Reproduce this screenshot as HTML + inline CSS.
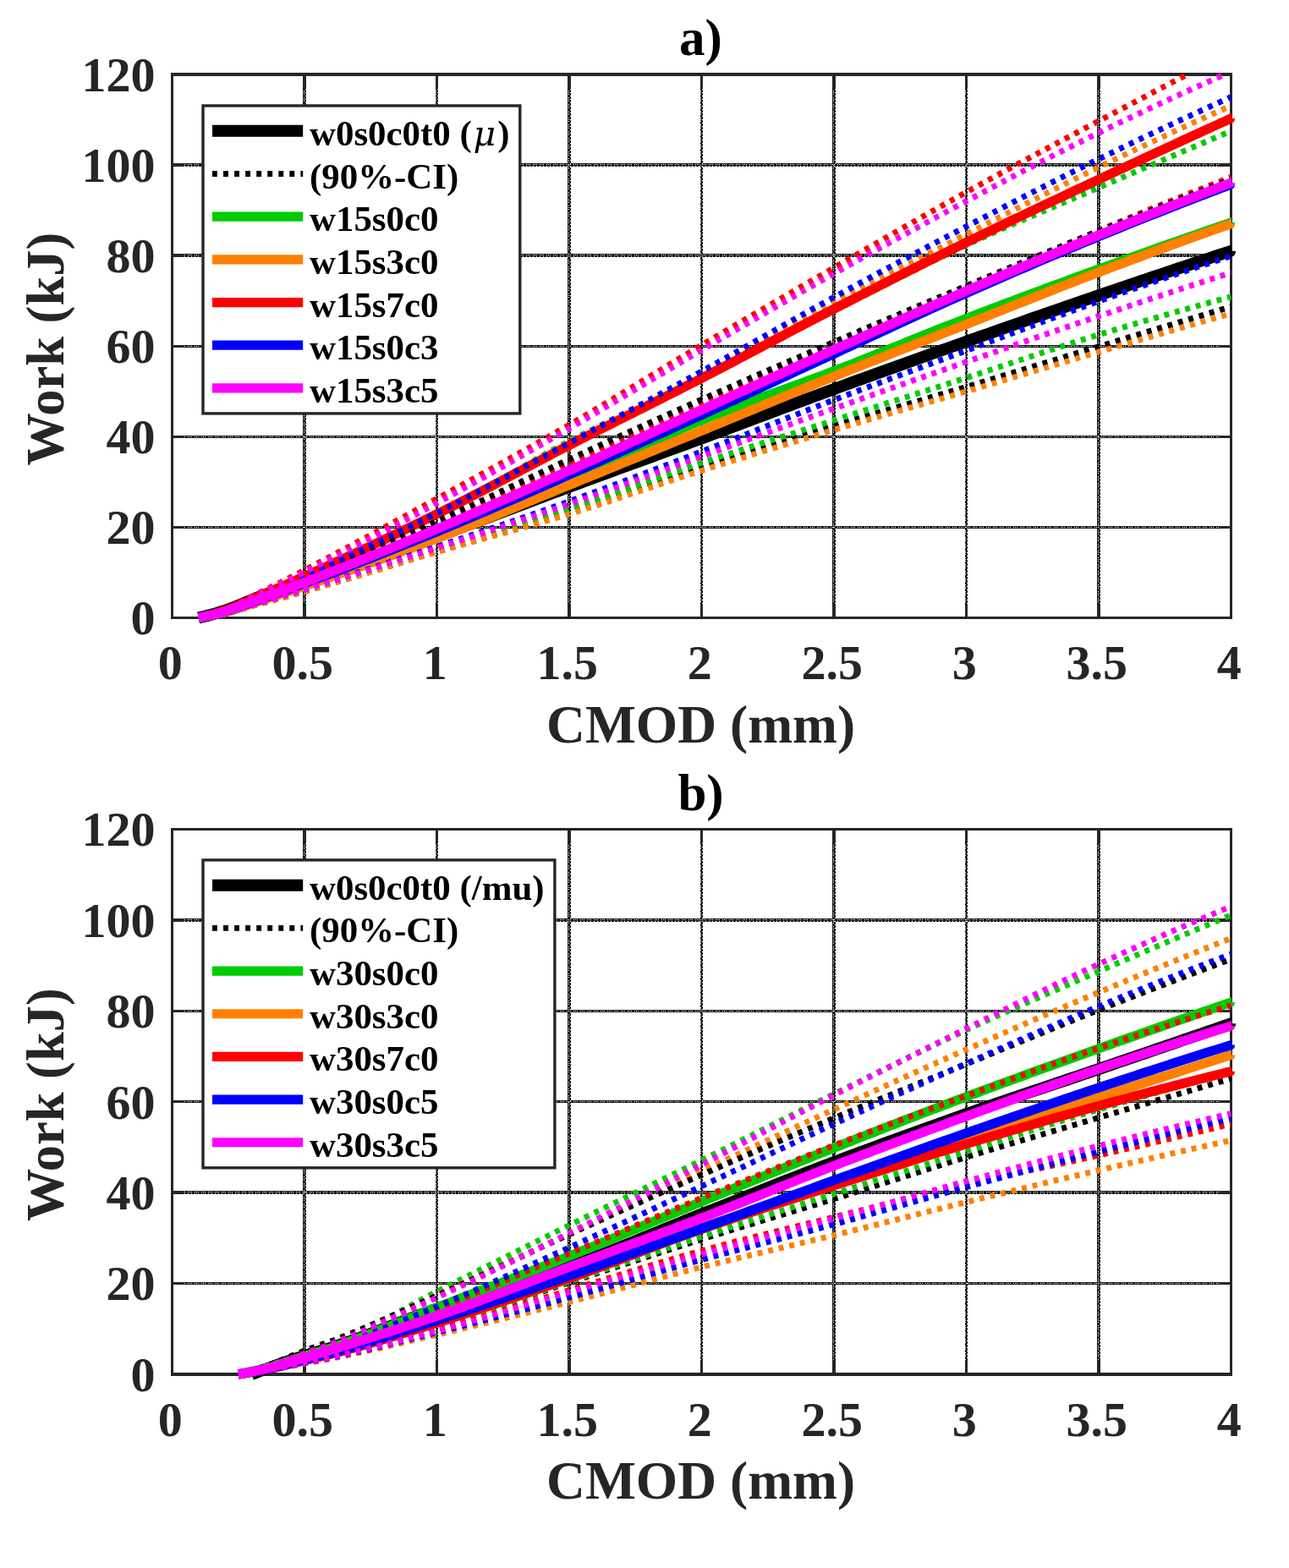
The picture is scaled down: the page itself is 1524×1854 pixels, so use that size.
<!DOCTYPE html>
<html><head><meta charset="utf-8"><title>Work vs CMOD</title>
<style>
html,body{margin:0;padding:0;background:#fff;}
svg{display:block;}
text{font-family:"Liberation Serif","Times New Roman",serif;font-weight:bold;}
.t{font-size:58px;fill:#262626;}
.l{font-size:63px;fill:#262626;}
.ti{font-size:61px;fill:#000;}
.lg{font-size:42.9px;fill:#000;}
</style></head><body>

<svg width="1524" height="1854" viewBox="0 0 1524 1854">
<rect width="1524" height="1854" fill="#fff"/>
<defs>
<clipPath id="clipa"><rect x="203.5" y="78" width="1252.4" height="653.9"/><rect x="234.2" y="78" width="1221.7" height="672.4"/></clipPath>
<clipPath id="clipb"><rect x="203.5" y="970.5" width="1252.4" height="655.9"/><rect x="281.15" y="970.5" width="1174.75" height="674.4"/></clipPath>
</defs>
<g shape-rendering="crispEdges">
<g fill="#161616"><rect x="358" y="90" width="4" height="639"/><rect x="515" y="90" width="3" height="639"/><rect x="671" y="90" width="4" height="639"/><rect x="828" y="90" width="3" height="639"/><rect x="984" y="90" width="4" height="639"/><rect x="1141" y="90" width="3" height="639"/><rect x="1297" y="90" width="4" height="639"/><rect x="205" y="622" width="1249" height="3"/><rect x="205" y="515" width="1249" height="3"/><rect x="205" y="408" width="1249" height="3"/><rect x="205" y="300" width="1249" height="4"/><rect x="205" y="193" width="1249" height="4"/></g>
<path d="M359.5 91V729M515.5 91V729M672.5 91V729M828.5 91V729M985.5 91V729M1141.5 91V729M1298.5 91V729M206 623.5H1454M206 516.5H1454M206 409.5H1454M206 301.5H1454M206 194.5H1454" stroke="#fff" stroke-width="1" stroke-dasharray="1 1 1 1 1 3" fill="none"/>
<path d="M361.5 93V729M517.5 93V729M674.5 93V729M830.5 93V729M987.5 93V729M1143.5 93V729M1300.5 93V729M206 303.5H1454M206 196.5H1454" stroke="#fff" stroke-width="1" stroke-dasharray="1 3" fill="none"/>
<g fill="#262626"><rect x="358" y="90" width="4" height="14"/><rect x="358" y="715" width="4" height="14"/><rect x="515" y="90" width="3" height="14"/><rect x="515" y="715" width="3" height="14"/><rect x="671" y="90" width="4" height="14"/><rect x="671" y="715" width="4" height="14"/><rect x="828" y="90" width="3" height="14"/><rect x="828" y="715" width="3" height="14"/><rect x="984" y="90" width="4" height="14"/><rect x="984" y="715" width="4" height="14"/><rect x="1141" y="90" width="3" height="14"/><rect x="1141" y="715" width="3" height="14"/><rect x="1297" y="90" width="4" height="14"/><rect x="1297" y="715" width="4" height="14"/><rect x="205" y="622" width="13" height="3"/><rect x="1441" y="622" width="13" height="3"/><rect x="205" y="515" width="13" height="3"/><rect x="1441" y="515" width="13" height="3"/><rect x="205" y="408" width="13" height="3"/><rect x="1441" y="408" width="13" height="3"/><rect x="205" y="300" width="13" height="4"/><rect x="1441" y="300" width="13" height="4"/><rect x="205" y="193" width="13" height="4"/><rect x="1441" y="193" width="13" height="4"/></g>
</g>
<g fill="#262626" shape-rendering="crispEdges"><rect x="202" y="86" width="1255" height="4"/><rect x="202" y="729" width="1255" height="3"/><rect x="202" y="86" width="3" height="646"/><rect x="1454" y="86" width="3" height="646"/></g>
<g fill="none">
<path clip-path="url(#clipa)" d="M234.8 730.4L241.06 728.96L247.32 727.38L253.58 725.65L259.84 723.8L266.1 721.83L272.36 719.65L278.62 717.22L284.88 714.62L291.14 711.97L297.4 709.34L303.66 706.85L309.92 704.46L316.18 702.11L322.44 699.78L328.7 697.48L334.96 695.21L341.22 692.97L347.48 690.75L353.74 688.55L360 686.38L366.26 684.23L372.52 682.09L378.78 679.97L385.04 677.87L391.3 675.78L397.56 673.71L403.82 671.64L410.08 669.58L416.34 667.53L422.6 665.48L428.86 663.44L435.12 661.39L441.38 659.35L447.64 657.3L453.9 655.24L460.16 653.18L466.42 651.11L472.68 649.03L478.94 646.94L485.2 644.84L491.46 642.72L497.72 640.58L503.98 638.42L510.24 636.24L516.5 634.04L522.76 631.82L529.02 629.57L535.28 627.31L541.54 625.03L547.8 622.74L554.06 620.43L560.32 618.11L566.58 615.77L572.84 613.43L579.1 611.08L585.36 608.72L591.62 606.36L597.88 603.99L604.14 601.61L610.4 599.24L616.66 596.86L622.92 594.49L629.18 592.12L635.44 589.75L641.7 587.39L647.96 585.03L654.22 582.68L660.48 580.34L666.74 578.01L673 575.69L679.26 573.38L685.52 571.07L691.78 568.77L698.04 566.48L704.3 564.18L710.56 561.89L716.82 559.6L723.08 557.32L729.34 555.03L735.6 552.75L741.86 550.47L748.12 548.19L754.38 545.91L760.64 543.63L766.9 541.35L773.16 539.06L779.42 536.78L785.68 534.49L791.94 532.21L798.2 529.92L804.46 527.62L810.72 525.32L816.98 523.02L823.24 520.72L829.5 518.41L835.76 516.09L842.02 513.77L848.28 511.44L854.54 509.11L860.8 506.77L867.06 504.43L873.32 502.09L879.58 499.74L885.84 497.39L892.1 495.04L898.36 492.69L904.62 490.34L910.88 487.99L917.14 485.64L923.4 483.29L929.66 480.95L935.92 478.61L942.18 476.27L948.44 473.93L954.7 471.6L960.96 469.28L967.22 466.96L973.48 464.65L979.74 462.35L986 460.06L992.26 457.77L998.52 455.48L1004.78 453.2L1011.04 450.93L1017.3 448.65L1023.56 446.38L1029.82 444.12L1036.08 441.86L1042.34 439.6L1048.6 437.34L1054.86 435.09L1061.12 432.84L1067.38 430.6L1073.64 428.35L1079.9 426.11L1086.16 423.87L1092.42 421.64L1098.68 419.41L1104.94 417.18L1111.2 414.95L1117.46 412.73L1123.72 410.5L1129.98 408.28L1136.24 406.06L1142.5 403.85L1148.76 401.63L1155.02 399.42L1161.28 397.21L1167.54 395L1173.8 392.79L1180.06 390.58L1186.32 388.38L1192.58 386.18L1198.84 383.98L1205.1 381.79L1211.36 379.59L1217.62 377.4L1223.88 375.22L1230.14 373.03L1236.4 370.85L1242.66 368.67L1248.92 366.5L1255.18 364.33L1261.44 362.16L1267.7 360L1273.96 357.84L1280.22 355.68L1286.48 353.53L1292.74 351.39L1299 349.24L1305.26 347.1L1311.52 344.97L1317.78 342.84L1324.04 340.71L1330.3 338.58L1336.56 336.46L1342.82 334.34L1349.08 332.22L1355.34 330.11L1361.6 328L1367.86 325.9L1374.12 323.8L1380.38 321.7L1386.64 319.6L1392.9 317.51L1399.16 315.42L1405.42 313.34L1411.68 311.25L1417.94 309.18L1424.2 307.1L1430.46 305.03L1436.72 302.96L1442.98 300.9L1449.24 298.84L1455.5 296.78L1463.5 294.15" stroke="#000000" stroke-width="14" stroke-linejoin="round"/>
<path d="M1455.9 296.78H1461.1A5.6 7 0 0 1 1455.9 303.77Z" fill="#000000"/>
<path clip-path="url(#clipa)" d="M234.8 730.4L241.06 729.49L247.32 728.47L253.58 727.35L259.84 726.14L266.1 724.85L272.36 723.42L278.62 721.83L284.88 720.12L291.14 718.36L297.4 716.58L303.66 714.85L309.92 713.15L316.18 711.46L322.44 709.75L328.7 708.04L334.96 706.31L341.22 704.55L347.48 702.78L353.74 700.99L360 699.2L366.26 697.39L372.52 695.57L378.78 693.75L385.04 691.92L391.3 690.07L397.56 688.23L403.82 686.37L410.08 684.51L416.34 682.64L422.6 680.76L428.86 678.88L435.12 677L441.38 675.11L447.64 673.22L453.9 671.32L460.16 669.42L466.42 667.51L472.68 665.61L478.94 663.7L485.2 661.79L491.46 659.88L497.72 657.97L503.98 656.06L510.24 654.15L516.5 652.24L522.76 650.33L529.02 648.42L535.28 646.5L541.54 644.59L547.8 642.67L554.06 640.74L560.32 638.82L566.58 636.89L572.84 634.96L579.1 633.02L585.36 631.08L591.62 629.14L597.88 627.2L604.14 625.25L610.4 623.29L616.66 621.34L622.92 619.38L629.18 617.41L635.44 615.44L641.7 613.47L647.96 611.49L654.22 609.51L660.48 607.52L666.74 605.52L673 603.53L679.26 601.52L685.52 599.5L691.78 597.47L698.04 595.43L704.3 593.38L710.56 591.32L716.82 589.26L723.08 587.19L729.34 585.11L735.6 583.04L741.86 580.95L748.12 578.87L754.38 576.79L760.64 574.71L766.9 572.62L773.16 570.55L779.42 568.47L785.68 566.4L791.94 564.34L798.2 562.28L804.46 560.23L810.72 558.19L816.98 556.16L823.24 554.14L829.5 552.13L835.76 550.14L842.02 548.14L848.28 546.15L854.54 544.16L860.8 542.18L867.06 540.2L873.32 538.23L879.58 536.26L885.84 534.29L892.1 532.33L898.36 530.37L904.62 528.42L910.88 526.47L917.14 524.52L923.4 522.58L929.66 520.65L935.92 518.71L942.18 516.79L948.44 514.86L954.7 512.94L960.96 511.03L967.22 509.12L973.48 507.22L979.74 505.31L986 503.42L992.26 501.53L998.52 499.65L1004.78 497.78L1011.04 495.92L1017.3 494.07L1023.56 492.22L1029.82 490.38L1036.08 488.55L1042.34 486.72L1048.6 484.89L1054.86 483.07L1061.12 481.25L1067.38 479.43L1073.64 477.6L1079.9 475.78L1086.16 473.96L1092.42 472.14L1098.68 470.31L1104.94 468.48L1111.2 466.65L1117.46 464.81L1123.72 462.96L1129.98 461.11L1136.24 459.25L1142.5 457.38L1148.76 455.5L1155.02 453.62L1161.28 451.74L1167.54 449.84L1173.8 447.95L1180.06 446.05L1186.32 444.14L1192.58 442.24L1198.84 440.33L1205.1 438.41L1211.36 436.5L1217.62 434.58L1223.88 432.67L1230.14 430.75L1236.4 428.83L1242.66 426.92L1248.92 425L1255.18 423.08L1261.44 421.17L1267.7 419.26L1273.96 417.35L1280.22 415.44L1286.48 413.53L1292.74 411.63L1299 409.74L1305.26 407.84L1311.52 405.95L1317.78 404.05L1324.04 402.16L1330.3 400.27L1336.56 398.38L1342.82 396.49L1349.08 394.6L1355.34 392.71L1361.6 390.83L1367.86 388.94L1374.12 387.06L1380.38 385.17L1386.64 383.29L1392.9 381.41L1399.16 379.52L1405.42 377.64L1411.68 375.76L1417.94 373.88L1424.2 372.01L1430.46 370.13L1436.72 368.25L1442.98 366.38L1449.24 364.5L1455.5 362.63" stroke="#000000" stroke-width="6.9" stroke-dasharray="5.9 6.97"/>
<path clip-path="url(#clipa)" d="M234.8 730.4L241.06 729.27L247.32 728.02L253.58 726.64L259.84 725.15L266.1 723.56L272.36 721.8L278.62 719.84L284.88 717.73L291.14 715.55L297.4 713.36L303.66 711.22L309.92 709.14L316.18 707.05L322.44 704.95L328.7 702.83L334.96 700.7L341.22 698.54L347.48 696.35L353.74 694.15L360 691.95L366.26 689.75L372.52 687.54L378.78 685.32L385.04 683.09L391.3 680.86L397.56 678.62L403.82 676.37L410.08 674.11L416.34 671.84L422.6 669.57L428.86 667.28L435.12 664.99L441.38 662.68L447.64 660.36L453.9 658.03L460.16 655.69L466.42 653.34L472.68 650.98L478.94 648.6L485.2 646.21L491.46 643.8L497.72 641.38L503.98 638.95L510.24 636.5L516.5 634.04L522.76 631.56L529.02 629.05L535.28 626.53L541.54 623.98L547.8 621.42L554.06 618.84L560.32 616.24L566.58 613.62L572.84 610.99L579.1 608.35L585.36 605.69L591.62 603.02L597.88 600.34L604.14 597.65L610.4 594.95L616.66 592.24L622.92 589.53L629.18 586.81L635.44 584.08L641.7 581.35L647.96 578.61L654.22 575.88L660.48 573.14L666.74 570.4L673 567.66L679.26 564.9L685.52 562.12L691.78 559.3L698.04 556.46L704.3 553.59L710.56 550.71L716.82 547.81L723.08 544.9L729.34 541.99L735.6 539.06L741.86 536.14L748.12 533.22L754.38 530.3L760.64 527.4L766.9 524.5L773.16 521.62L779.42 518.76L785.68 515.93L791.94 513.12L798.2 510.33L804.46 507.59L810.72 504.88L816.98 502.2L823.24 499.58L829.5 496.99L835.76 494.46L842.02 491.96L848.28 489.5L854.54 487.07L860.8 484.67L867.06 482.3L873.32 479.95L879.58 477.62L885.84 475.32L892.1 473.03L898.36 470.75L904.62 468.48L910.88 466.22L917.14 463.96L923.4 461.71L929.66 459.46L935.92 457.2L942.18 454.93L948.44 452.66L954.7 450.37L960.96 448.06L967.22 445.74L973.48 443.4L979.74 441.04L986 438.64L992.26 436.23L998.52 433.79L1004.78 431.35L1011.04 428.88L1017.3 426.41L1023.56 423.92L1029.82 421.43L1036.08 418.92L1042.34 416.41L1048.6 413.9L1054.86 411.38L1061.12 408.86L1067.38 406.33L1073.64 403.81L1079.9 401.29L1086.16 398.78L1092.42 396.26L1098.68 393.76L1104.94 391.27L1111.2 388.78L1117.46 386.3L1123.72 383.84L1129.98 381.39L1136.24 378.96L1142.5 376.54L1148.76 374.14L1155.02 371.74L1161.28 369.35L1167.54 366.97L1173.8 364.59L1180.06 362.22L1186.32 359.85L1192.58 357.49L1198.84 355.13L1205.1 352.78L1211.36 350.44L1217.62 348.1L1223.88 345.77L1230.14 343.44L1236.4 341.12L1242.66 338.81L1248.92 336.49L1255.18 334.19L1261.44 331.89L1267.7 329.59L1273.96 327.3L1280.22 325.02L1286.48 322.74L1292.74 320.46L1299 318.19L1305.26 315.93L1311.52 313.67L1317.78 311.41L1324.04 309.16L1330.3 306.91L1336.56 304.67L1342.82 302.44L1349.08 300.21L1355.34 297.98L1361.6 295.76L1367.86 293.54L1374.12 291.33L1380.38 289.13L1386.64 286.92L1392.9 284.73L1399.16 282.54L1405.42 280.35L1411.68 278.17L1417.94 276L1424.2 273.83L1430.46 271.66L1436.72 269.5L1442.98 267.35L1449.24 265.2L1455.5 263.05L1463.5 260.31" stroke="#00cc00" stroke-width="11.2" stroke-linejoin="round"/>
<path d="M1455.9 263.05H1459.98A4.48 5.6 0 0 1 1455.9 268.64Z" fill="#00cc00"/>
<path clip-path="url(#clipa)" d="M234.8 730.4L241.06 728.97L247.32 727.38L253.58 725.63L259.84 723.75L266.1 721.73L272.36 719.51L278.62 717.02L284.88 714.35L291.14 711.59L297.4 708.82L303.66 706.11L309.92 703.47L316.18 700.82L322.44 698.16L328.7 695.48L334.96 692.77L341.22 690.04L347.48 687.27L353.74 684.49L360 681.71L366.26 678.92L372.52 676.13L378.78 673.33L385.04 670.53L391.3 667.71L397.56 664.89L403.82 662.06L410.08 659.21L416.34 656.36L422.6 653.49L428.86 650.6L435.12 647.71L441.38 644.79L447.64 641.87L453.9 638.92L460.16 635.96L466.42 632.98L472.68 629.97L478.94 626.95L485.2 623.91L491.46 620.84L497.72 617.76L503.98 614.64L510.24 611.51L516.5 608.34L522.76 605.14L529.02 601.87L535.28 598.55L541.54 595.17L547.8 591.76L554.06 588.3L560.32 584.8L566.58 581.28L572.84 577.73L579.1 574.16L585.36 570.58L591.62 566.99L597.88 563.39L604.14 559.79L610.4 556.19L616.66 552.61L622.92 549.04L629.18 545.49L635.44 541.96L641.7 538.47L647.96 535.01L654.22 531.59L660.48 528.21L666.74 524.89L673 521.62L679.26 518.4L685.52 515.21L691.78 512.05L698.04 508.92L704.3 505.81L710.56 502.73L716.82 499.67L723.08 496.63L729.34 493.6L735.6 490.59L741.86 487.6L748.12 484.61L754.38 481.63L760.64 478.65L766.9 475.68L773.16 472.71L779.42 469.74L785.68 466.76L791.94 463.77L798.2 460.78L804.46 457.78L810.72 454.76L816.98 451.73L823.24 448.67L829.5 445.6L835.76 442.52L842.02 439.42L848.28 436.32L854.54 433.21L860.8 430.1L867.06 426.98L873.32 423.86L879.58 420.73L885.84 417.6L892.1 414.47L898.36 411.33L904.62 408.2L910.88 405.06L917.14 401.91L923.4 398.77L929.66 395.63L935.92 392.49L942.18 389.35L948.44 386.21L954.7 383.08L960.96 379.94L967.22 376.81L973.48 373.68L979.74 370.56L986 367.44L992.26 364.32L998.52 361.19L1004.78 358.04L1011.04 354.88L1017.3 351.72L1023.56 348.55L1029.82 345.38L1036.08 342.21L1042.34 339.03L1048.6 335.86L1054.86 332.7L1061.12 329.53L1067.38 326.38L1073.64 323.24L1079.9 320.1L1086.16 316.99L1092.42 313.88L1098.68 310.79L1104.94 307.73L1111.2 304.68L1117.46 301.65L1123.72 298.65L1129.98 295.68L1136.24 292.74L1142.5 289.82L1148.76 286.93L1155.02 284.07L1161.28 281.24L1167.54 278.42L1173.8 275.63L1180.06 272.86L1186.32 270.1L1192.58 267.36L1198.84 264.64L1205.1 261.93L1211.36 259.23L1217.62 256.54L1223.88 253.86L1230.14 251.19L1236.4 248.52L1242.66 245.86L1248.92 243.2L1255.18 240.54L1261.44 237.88L1267.7 235.22L1273.96 232.55L1280.22 229.88L1286.48 227.21L1292.74 224.53L1299 221.83L1305.26 219.14L1311.52 216.44L1317.78 213.75L1324.04 211.06L1330.3 208.36L1336.56 205.68L1342.82 202.99L1349.08 200.3L1355.34 197.62L1361.6 194.94L1367.86 192.26L1374.12 189.58L1380.38 186.9L1386.64 184.23L1392.9 181.56L1399.16 178.88L1405.42 176.21L1411.68 173.55L1417.94 170.88L1424.2 168.21L1430.46 165.55L1436.72 162.89L1442.98 160.23L1449.24 157.57L1455.5 154.92" stroke="#00cc00" stroke-width="6.9" stroke-dasharray="5.9 6.97"/>
<path clip-path="url(#clipa)" d="M234.8 730.4L241.06 729.47L247.32 728.44L253.58 727.3L259.84 726.08L266.1 724.77L272.36 723.33L278.62 721.71L284.88 719.98L291.14 718.19L297.4 716.39L303.66 714.63L309.92 712.92L316.18 711.2L322.44 709.47L328.7 707.73L334.96 705.98L341.22 704.2L347.48 702.4L353.74 700.59L360 698.77L366.26 696.93L372.52 695.09L378.78 693.24L385.04 691.37L391.3 689.5L397.56 687.62L403.82 685.74L410.08 683.85L416.34 681.95L422.6 680.04L428.86 678.13L435.12 676.22L441.38 674.3L447.64 672.38L453.9 670.46L460.16 668.53L466.42 666.6L472.68 664.67L478.94 662.74L485.2 660.81L491.46 658.88L497.72 656.95L503.98 655.02L510.24 653.09L516.5 651.17L522.76 649.25L529.02 647.34L535.28 645.42L541.54 643.52L547.8 641.61L554.06 639.7L560.32 637.8L566.58 635.89L572.84 633.98L579.1 632.07L585.36 630.15L591.62 628.23L597.88 626.31L604.14 624.38L610.4 622.44L616.66 620.49L622.92 618.54L629.18 616.57L635.44 614.59L641.7 612.61L647.96 610.6L654.22 608.59L660.48 606.56L666.74 604.52L673 602.46L679.26 600.37L685.52 598.26L691.78 596.12L698.04 593.96L704.3 591.78L710.56 589.58L716.82 587.37L723.08 585.14L729.34 582.9L735.6 580.65L741.86 578.39L748.12 576.13L754.38 573.86L760.64 571.6L766.9 569.34L773.16 567.08L779.42 564.83L785.68 562.58L791.94 560.35L798.2 558.13L804.46 555.93L810.72 553.74L816.98 551.58L823.24 549.43L829.5 547.32L835.76 545.22L842.02 543.13L848.28 541.06L854.54 539.01L860.8 536.96L867.06 534.92L873.32 532.89L879.58 530.87L885.84 528.86L892.1 526.86L898.36 524.86L904.62 522.86L910.88 520.87L917.14 518.89L923.4 516.9L929.66 514.92L935.92 512.94L942.18 510.95L948.44 508.97L954.7 506.99L960.96 505L967.22 503L973.48 501.01L979.74 499L986 496.99L992.26 494.98L998.52 492.97L1004.78 490.96L1011.04 488.95L1017.3 486.94L1023.56 484.93L1029.82 482.92L1036.08 480.91L1042.34 478.9L1048.6 476.89L1054.86 474.88L1061.12 472.87L1067.38 470.86L1073.64 468.85L1079.9 466.84L1086.16 464.83L1092.42 462.82L1098.68 460.8L1104.94 458.79L1111.2 456.77L1117.46 454.75L1123.72 452.74L1129.98 450.72L1136.24 448.7L1142.5 446.67L1148.76 444.64L1155.02 442.6L1161.28 440.56L1167.54 438.5L1173.8 436.44L1180.06 434.37L1186.32 432.3L1192.58 430.22L1198.84 428.15L1205.1 426.07L1211.36 423.99L1217.62 421.92L1223.88 419.85L1230.14 417.79L1236.4 415.74L1242.66 413.69L1248.92 411.65L1255.18 409.62L1261.44 407.6L1267.7 405.6L1273.96 403.61L1280.22 401.63L1286.48 399.68L1292.74 397.74L1299 395.82L1305.26 393.91L1311.52 392.01L1317.78 390.13L1324.04 388.25L1330.3 386.38L1336.56 384.51L1342.82 382.66L1349.08 380.81L1355.34 378.98L1361.6 377.15L1367.86 375.33L1374.12 373.52L1380.38 371.72L1386.64 369.93L1392.9 368.15L1399.16 366.37L1405.42 364.61L1411.68 362.86L1417.94 361.11L1424.2 359.38L1430.46 357.65L1436.72 355.94L1442.98 354.23L1449.24 352.53L1455.5 350.85" stroke="#00cc00" stroke-width="6.9" stroke-dasharray="5.9 6.97"/>
<path clip-path="url(#clipa)" d="M234.8 730.4L241.06 729.31L247.32 728.08L253.58 726.74L259.84 725.29L266.1 723.75L272.36 722.04L278.62 720.13L284.88 718.08L291.14 715.96L297.4 713.83L303.66 711.76L309.92 709.73L316.18 707.69L322.44 705.65L328.7 703.6L334.96 701.52L341.22 699.42L347.48 697.29L353.74 695.16L360 693.02L366.26 690.87L372.52 688.71L378.78 686.55L385.04 684.38L391.3 682.2L397.56 680.01L403.82 677.82L410.08 675.61L416.34 673.4L422.6 671.18L428.86 668.95L435.12 666.71L441.38 664.47L447.64 662.21L453.9 659.94L460.16 657.67L466.42 655.38L472.68 653.09L478.94 650.78L485.2 648.46L491.46 646.14L497.72 643.8L503.98 641.45L510.24 639.09L516.5 636.72L522.76 634.33L529.02 631.92L535.28 629.49L541.54 627.04L547.8 624.58L554.06 622.1L560.32 619.6L566.58 617.09L572.84 614.57L579.1 612.04L585.36 609.49L591.62 606.94L597.88 604.38L604.14 601.82L610.4 599.25L616.66 596.68L622.92 594.1L629.18 591.52L635.44 588.94L641.7 586.37L647.96 583.79L654.22 581.22L660.48 578.66L666.74 576.1L673 573.55L679.26 571L685.52 568.44L691.78 565.89L698.04 563.33L704.3 560.77L710.56 558.2L716.82 555.64L723.08 553.07L729.34 550.5L735.6 547.93L741.86 545.36L748.12 542.78L754.38 540.21L760.64 537.63L766.9 535.06L773.16 532.48L779.42 529.9L785.68 527.33L791.94 524.75L798.2 522.17L804.46 519.6L810.72 517.02L816.98 514.45L823.24 511.88L829.5 509.31L835.76 506.74L842.02 504.16L848.28 501.58L854.54 499L860.8 496.42L867.06 493.83L873.32 491.24L879.58 488.66L885.84 486.07L892.1 483.48L898.36 480.89L904.62 478.31L910.88 475.73L917.14 473.14L923.4 470.57L929.66 467.99L935.92 465.42L942.18 462.86L948.44 460.3L954.7 457.74L960.96 455.19L967.22 452.65L973.48 450.11L979.74 447.59L986 445.07L992.26 442.56L998.52 440.05L1004.78 437.56L1011.04 435.07L1017.3 432.59L1023.56 430.11L1029.82 427.64L1036.08 425.17L1042.34 422.71L1048.6 420.25L1054.86 417.8L1061.12 415.35L1067.38 412.9L1073.64 410.45L1079.9 408L1086.16 405.56L1092.42 403.11L1098.68 400.67L1104.94 398.22L1111.2 395.77L1117.46 393.33L1123.72 390.88L1129.98 388.42L1136.24 385.96L1142.5 383.5L1148.76 381.04L1155.02 378.57L1161.28 376.09L1167.54 373.61L1173.8 371.12L1180.06 368.63L1186.32 366.14L1192.58 363.65L1198.84 361.16L1205.1 358.67L1211.36 356.18L1217.62 353.69L1223.88 351.2L1230.14 348.72L1236.4 346.25L1242.66 343.78L1248.92 341.31L1255.18 338.86L1261.44 336.41L1267.7 333.97L1273.96 331.54L1280.22 329.12L1286.48 326.72L1292.74 324.32L1299 321.94L1305.26 319.57L1311.52 317.21L1317.78 314.85L1324.04 312.5L1330.3 310.15L1336.56 307.81L1342.82 305.48L1349.08 303.16L1355.34 300.84L1361.6 298.53L1367.86 296.22L1374.12 293.92L1380.38 291.63L1386.64 289.34L1392.9 287.07L1399.16 284.79L1405.42 282.53L1411.68 280.27L1417.94 278.02L1424.2 275.78L1430.46 273.54L1436.72 271.31L1442.98 269.09L1449.24 266.87L1455.5 264.66L1463.5 261.84" stroke="#ff8000" stroke-width="11.2" stroke-linejoin="round"/>
<path d="M1455.9 264.66H1459.98A4.48 5.6 0 0 1 1455.9 270.25Z" fill="#ff8000"/>
<path clip-path="url(#clipa)" d="M234.8 730.4L241.06 728.96L247.32 727.35L253.58 725.59L259.84 723.69L266.1 721.66L272.36 719.41L278.62 716.9L284.88 714.21L291.14 711.43L297.4 708.63L303.66 705.9L309.92 703.23L316.18 700.56L322.44 697.87L328.7 695.17L334.96 692.44L341.22 689.68L347.48 686.89L353.74 684.09L360 681.27L366.26 678.45L372.52 675.63L378.78 672.79L385.04 669.94L391.3 667.09L397.56 664.22L403.82 661.35L410.08 658.46L416.34 655.57L422.6 652.66L428.86 649.73L435.12 646.8L441.38 643.85L447.64 640.89L453.9 637.91L460.16 634.92L466.42 631.92L472.68 628.9L478.94 625.86L485.2 622.81L491.46 619.74L497.72 616.65L503.98 613.54L510.24 610.42L516.5 607.27L522.76 604.1L529.02 600.88L535.28 597.63L541.54 594.34L547.8 591.02L554.06 587.68L560.32 584.3L566.58 580.91L572.84 577.49L579.1 574.06L585.36 570.61L591.62 567.16L597.88 563.69L604.14 560.23L610.4 556.76L616.66 553.29L622.92 549.83L629.18 546.38L635.44 542.94L641.7 539.51L647.96 536.1L654.22 532.71L660.48 529.34L666.74 526L673 522.69L679.26 519.4L685.52 516.14L691.78 512.89L698.04 509.65L704.3 506.43L710.56 503.22L716.82 500.02L723.08 496.83L729.34 493.65L735.6 490.47L741.86 487.3L748.12 484.13L754.38 480.96L760.64 477.78L766.9 474.61L773.16 471.43L779.42 468.25L785.68 465.06L791.94 461.86L798.2 458.65L804.46 455.43L810.72 452.19L816.98 448.94L823.24 445.68L829.5 442.39L835.76 439.09L842.02 435.76L848.28 432.42L854.54 429.06L860.8 425.69L867.06 422.31L873.32 418.92L879.58 415.52L885.84 412.11L892.1 408.69L898.36 405.27L904.62 401.85L910.88 398.42L917.14 395L923.4 391.58L929.66 388.16L935.92 384.74L942.18 381.34L948.44 377.94L954.7 374.55L960.96 371.17L967.22 367.81L973.48 364.46L979.74 361.12L986 357.81L992.26 354.51L998.52 351.21L1004.78 347.93L1011.04 344.65L1017.3 341.38L1023.56 338.12L1029.82 334.86L1036.08 331.61L1042.34 328.37L1048.6 325.13L1054.86 321.9L1061.12 318.67L1067.38 315.45L1073.64 312.23L1079.9 309.01L1086.16 305.8L1092.42 302.59L1098.68 299.39L1104.94 296.18L1111.2 292.98L1117.46 289.78L1123.72 286.57L1129.98 283.37L1136.24 280.17L1142.5 276.97L1148.76 273.77L1155.02 270.56L1161.28 267.35L1167.54 264.13L1173.8 260.92L1180.06 257.7L1186.32 254.48L1192.58 251.27L1198.84 248.06L1205.1 244.85L1211.36 241.64L1217.62 238.44L1223.88 235.24L1230.14 232.06L1236.4 228.88L1242.66 225.71L1248.92 222.55L1255.18 219.4L1261.44 216.26L1267.7 213.14L1273.96 210.02L1280.22 206.93L1286.48 203.85L1292.74 200.79L1299 197.74L1305.26 194.71L1311.52 191.69L1317.78 188.68L1324.04 185.68L1330.3 182.69L1336.56 179.7L1342.82 176.73L1349.08 173.77L1355.34 170.81L1361.6 167.87L1367.86 164.94L1374.12 162.01L1380.38 159.1L1386.64 156.2L1392.9 153.3L1399.16 150.42L1405.42 147.55L1411.68 144.68L1417.94 141.83L1424.2 138.99L1430.46 136.16L1436.72 133.34L1442.98 130.53L1449.24 127.73L1455.5 124.94" stroke="#ff8000" stroke-width="6.9" stroke-dasharray="5.9 6.97"/>
<path clip-path="url(#clipa)" d="M234.8 730.4L241.06 729.49L247.32 728.48L253.58 727.37L259.84 726.17L266.1 724.89L272.36 723.47L278.62 721.89L284.88 720.2L291.14 718.44L297.4 716.67L303.66 714.95L309.92 713.27L316.18 711.59L322.44 709.9L328.7 708.19L334.96 706.47L341.22 704.73L347.48 702.97L353.74 701.19L360 699.4L366.26 697.59L372.52 695.77L378.78 693.94L385.04 692.1L391.3 690.25L397.56 688.39L403.82 686.52L410.08 684.65L416.34 682.77L422.6 680.89L428.86 679L435.12 677.11L441.38 675.22L447.64 673.33L453.9 671.44L460.16 669.55L466.42 667.67L472.68 665.78L478.94 663.91L485.2 662.03L491.46 660.16L497.72 658.3L503.98 656.45L510.24 654.61L516.5 652.78L522.76 650.96L529.02 649.15L535.28 647.35L541.54 645.57L547.8 643.79L554.06 642.02L560.32 640.25L566.58 638.49L572.84 636.73L579.1 634.98L585.36 633.22L591.62 631.46L597.88 629.7L604.14 627.93L610.4 626.16L616.66 624.38L622.92 622.59L629.18 620.79L635.44 618.99L641.7 617.16L647.96 615.33L654.22 613.47L660.48 611.6L666.74 609.72L673 607.81L679.26 605.88L685.52 603.92L691.78 601.94L698.04 599.94L704.3 597.92L710.56 595.88L716.82 593.82L723.08 591.75L729.34 589.68L735.6 587.59L741.86 585.49L748.12 583.39L754.38 581.28L760.64 579.17L766.9 577.06L773.16 574.96L779.42 572.86L785.68 570.76L791.94 568.67L798.2 566.59L804.46 564.53L810.72 562.47L816.98 560.44L823.24 558.42L829.5 556.42L835.76 554.43L842.02 552.45L848.28 550.47L854.54 548.5L860.8 546.54L867.06 544.58L873.32 542.62L879.58 540.67L885.84 538.73L892.1 536.79L898.36 534.85L904.62 532.92L910.88 531L917.14 529.08L923.4 527.16L929.66 525.25L935.92 523.34L942.18 521.44L948.44 519.54L954.7 517.65L960.96 515.76L967.22 513.87L973.48 511.99L979.74 510.11L986 508.24L992.26 506.37L998.52 504.51L1004.78 502.66L1011.04 500.82L1017.3 498.99L1023.56 497.16L1029.82 495.34L1036.08 493.52L1042.34 491.71L1048.6 489.9L1054.86 488.09L1061.12 486.29L1067.38 484.49L1073.64 482.69L1079.9 480.89L1086.16 479.08L1092.42 477.28L1098.68 475.48L1104.94 473.67L1111.2 471.86L1117.46 470.05L1123.72 468.23L1129.98 466.4L1136.24 464.57L1142.5 462.73L1148.76 460.89L1155.02 459.04L1161.28 457.19L1167.54 455.33L1173.8 453.47L1180.06 451.61L1186.32 449.74L1192.58 447.87L1198.84 446L1205.1 444.13L1211.36 442.26L1217.62 440.38L1223.88 438.51L1230.14 436.64L1236.4 434.76L1242.66 432.89L1248.92 431.02L1255.18 429.15L1261.44 427.29L1267.7 425.42L1273.96 423.56L1280.22 421.7L1286.48 419.85L1292.74 418L1299 416.16L1305.26 414.32L1311.52 412.48L1317.78 410.64L1324.04 408.81L1330.3 406.97L1336.56 405.14L1342.82 403.31L1349.08 401.48L1355.34 399.66L1361.6 397.83L1367.86 396.01L1374.12 394.18L1380.38 392.36L1386.64 390.55L1392.9 388.73L1399.16 386.91L1405.42 385.1L1411.68 383.29L1417.94 381.48L1424.2 379.67L1430.46 377.86L1436.72 376.06L1442.98 374.26L1449.24 372.46L1455.5 370.66" stroke="#ff8000" stroke-width="6.9" stroke-dasharray="5.9 6.97"/>
<path clip-path="url(#clipa)" d="M234.8 730.4L241.06 728.97L247.32 727.37L253.58 725.61L259.84 723.72L266.1 721.7L272.36 719.46L278.62 716.96L284.88 714.28L291.14 711.51L297.4 708.72L303.66 706L309.92 703.35L316.18 700.69L322.44 698.02L328.7 695.33L334.96 692.61L341.22 689.86L347.48 687.08L353.74 684.28L360 681.48L366.26 678.66L372.52 675.83L378.78 673L385.04 670.15L391.3 667.29L397.56 664.42L403.82 661.54L410.08 658.65L416.34 655.75L422.6 652.84L428.86 649.91L435.12 646.98L441.38 644.03L447.64 641.08L453.9 638.11L460.16 635.13L466.42 632.14L472.68 629.14L478.94 626.13L485.2 623.1L491.46 620.07L497.72 617.02L503.98 613.96L510.24 610.89L516.5 607.81L522.76 604.71L529.02 601.57L535.28 598.42L541.54 595.24L547.8 592.03L554.06 588.81L560.32 585.57L566.58 582.31L572.84 579.04L579.1 575.76L585.36 572.46L591.62 569.16L597.88 565.85L604.14 562.54L610.4 559.23L616.66 555.92L622.92 552.61L629.18 549.3L635.44 546L641.7 542.71L647.96 539.42L654.22 536.15L660.48 532.9L666.74 529.66L673 526.44L679.26 523.23L685.52 520.04L691.78 516.85L698.04 513.67L704.3 510.5L710.56 507.33L716.82 504.17L723.08 501.02L729.34 497.87L735.6 494.72L741.86 491.57L748.12 488.43L754.38 485.28L760.64 482.14L766.9 478.99L773.16 475.84L779.42 472.68L785.68 469.52L791.94 466.36L798.2 463.19L804.46 460.01L810.72 456.83L816.98 453.63L823.24 450.42L829.5 447.21L835.76 443.98L842.02 440.74L848.28 437.49L854.54 434.22L860.8 430.95L867.06 427.67L873.32 424.38L879.58 421.09L885.84 417.79L892.1 414.48L898.36 411.18L904.62 407.87L910.88 404.57L917.14 401.26L923.4 397.96L929.66 394.66L935.92 391.36L942.18 388.08L948.44 384.79L954.7 381.52L960.96 378.25L967.22 375L973.48 371.75L979.74 368.52L986 365.3L992.26 362.09L998.52 358.89L1004.78 355.69L1011.04 352.49L1017.3 349.29L1023.56 346.1L1029.82 342.92L1036.08 339.73L1042.34 336.56L1048.6 333.39L1054.86 330.22L1061.12 327.06L1067.38 323.91L1073.64 320.76L1079.9 317.62L1086.16 314.48L1092.42 311.36L1098.68 308.23L1104.94 305.12L1111.2 302.02L1117.46 298.92L1123.72 295.83L1129.98 292.75L1136.24 289.67L1142.5 286.61L1148.76 283.55L1155.02 280.51L1161.28 277.47L1167.54 274.44L1173.8 271.43L1180.06 268.41L1186.32 265.41L1192.58 262.41L1198.84 259.42L1205.1 256.44L1211.36 253.46L1217.62 250.49L1223.88 247.52L1230.14 244.56L1236.4 241.61L1242.66 238.65L1248.92 235.7L1255.18 232.76L1261.44 229.81L1267.7 226.87L1273.96 223.94L1280.22 221L1286.48 218.06L1292.74 215.13L1299 212.2L1305.26 209.27L1311.52 206.34L1317.78 203.41L1324.04 200.49L1330.3 197.57L1336.56 194.66L1342.82 191.75L1349.08 188.84L1355.34 185.94L1361.6 183.03L1367.86 180.14L1374.12 177.24L1380.38 174.35L1386.64 171.46L1392.9 168.58L1399.16 165.7L1405.42 162.82L1411.68 159.95L1417.94 157.08L1424.2 154.21L1430.46 151.35L1436.72 148.49L1442.98 145.63L1449.24 142.78L1455.5 139.93L1463.5 136.29" stroke="#ff0000" stroke-width="11.2" stroke-linejoin="round"/>
<path d="M1455.9 139.93H1459.98A4.48 5.6 0 0 1 1455.9 145.51Z" fill="#ff0000"/>
<path clip-path="url(#clipa)" d="M234.8 730.4L241.06 728.75L247.32 726.92L253.58 724.9L259.84 722.72L266.1 720.4L272.36 717.84L278.62 714.97L284.88 711.89L291.14 708.7L297.4 705.5L303.66 702.38L309.92 699.33L316.18 696.28L322.44 693.21L328.7 690.12L334.96 687L341.22 683.84L347.48 680.65L353.74 677.43L360 674.19L366.26 670.93L372.52 667.66L378.78 664.37L385.04 661.06L391.3 657.74L397.56 654.41L403.82 651.06L410.08 647.71L416.34 644.34L422.6 640.96L428.86 637.57L435.12 634.17L441.38 630.76L447.64 627.35L453.9 623.93L460.16 620.51L466.42 617.08L472.68 613.65L478.94 610.22L485.2 606.78L491.46 603.34L497.72 599.91L503.98 596.47L510.24 593.04L516.5 589.61L522.76 586.18L529.02 582.75L535.28 579.32L541.54 575.89L547.8 572.46L554.06 569.02L560.32 565.58L566.58 562.14L572.84 558.7L579.1 555.24L585.36 551.79L591.62 548.32L597.88 544.85L604.14 541.37L610.4 537.88L616.66 534.38L622.92 530.87L629.18 527.35L635.44 523.82L641.7 520.28L647.96 516.72L654.22 513.15L660.48 509.56L666.74 505.96L673 502.35L679.26 498.71L685.52 495.05L691.78 491.36L698.04 487.65L704.3 483.92L710.56 480.18L716.82 476.41L723.08 472.64L729.34 468.85L735.6 465.05L741.86 461.24L748.12 457.43L754.38 453.61L760.64 449.79L766.9 445.97L773.16 442.15L779.42 438.33L785.68 434.52L791.94 430.71L798.2 426.91L804.46 423.13L810.72 419.36L816.98 415.6L823.24 411.85L829.5 408.13L835.76 404.42L842.02 400.71L848.28 397.01L854.54 393.31L860.8 389.62L867.06 385.93L873.32 382.24L879.58 378.57L885.84 374.89L892.1 371.22L898.36 367.55L904.62 363.89L910.88 360.23L917.14 356.57L923.4 352.92L929.66 349.27L935.92 345.63L942.18 341.99L948.44 338.35L954.7 334.71L960.96 331.08L967.22 327.45L973.48 323.83L979.74 320.21L986 316.59L992.26 312.97L998.52 309.35L1004.78 305.73L1011.04 302.1L1017.3 298.48L1023.56 294.86L1029.82 291.25L1036.08 287.63L1042.34 284.02L1048.6 280.41L1054.86 276.81L1061.12 273.21L1067.38 269.61L1073.64 266.03L1079.9 262.45L1086.16 258.88L1092.42 255.31L1098.68 251.76L1104.94 248.21L1111.2 244.68L1117.46 241.16L1123.72 237.64L1129.98 234.15L1136.24 230.66L1142.5 227.19L1148.76 223.73L1155.02 220.28L1161.28 216.85L1167.54 213.42L1173.8 210.01L1180.06 206.61L1186.32 203.22L1192.58 199.83L1198.84 196.46L1205.1 193.09L1211.36 189.73L1217.62 186.38L1223.88 183.03L1230.14 179.69L1236.4 176.35L1242.66 173.02L1248.92 169.69L1255.18 166.37L1261.44 163.05L1267.7 159.73L1273.96 156.41L1280.22 153.09L1286.48 149.77L1292.74 146.46L1299 143.14L1305.26 139.82L1311.52 136.51L1317.78 133.2L1324.04 129.89L1330.3 126.59L1336.56 123.29L1342.82 119.99L1349.08 116.7L1355.34 113.41L1361.6 110.12L1367.86 106.84L1374.12 103.56L1380.38 100.28L1386.64 97.01L1392.9 93.74L1399.16 90.47L1403.91 88" stroke="#ff0000" stroke-width="6.9" stroke-dasharray="5.9 6.97"/>
<path clip-path="url(#clipa)" d="M234.8 730.4L241.06 729.11L247.32 727.67L253.58 726.09L259.84 724.39L266.1 722.57L272.36 720.56L278.62 718.31L284.88 715.9L291.14 713.41L297.4 710.9L303.66 708.45L309.92 706.07L316.18 703.67L322.44 701.27L328.7 698.85L334.96 696.41L341.22 693.93L347.48 691.43L353.74 688.91L360 686.38L366.26 683.84L372.52 681.29L378.78 678.73L385.04 676.16L391.3 673.57L397.56 670.98L403.82 668.38L410.08 665.76L416.34 663.14L422.6 660.51L428.86 657.87L435.12 655.22L441.38 652.57L447.64 649.9L453.9 647.23L460.16 644.55L466.42 641.86L472.68 639.17L478.94 636.46L485.2 633.76L491.46 631.04L497.72 628.32L503.98 625.59L510.24 622.86L516.5 620.12L522.76 617.37L529.02 614.6L535.28 611.82L541.54 609.01L547.8 606.2L554.06 603.37L560.32 600.53L566.58 597.68L572.84 594.82L579.1 591.95L585.36 589.07L591.62 586.2L597.88 583.31L604.14 580.43L610.4 577.54L616.66 574.66L622.92 571.77L629.18 568.89L635.44 566.01L641.7 563.14L647.96 560.28L654.22 557.42L660.48 554.58L666.74 551.74L673 548.92L679.26 546.11L685.52 543.3L691.78 540.49L698.04 537.69L704.3 534.89L710.56 532.1L716.82 529.31L723.08 526.52L729.34 523.73L735.6 520.94L741.86 518.16L748.12 515.38L754.38 512.6L760.64 509.83L766.9 507.05L773.16 504.28L779.42 501.5L785.68 498.73L791.94 495.96L798.2 493.19L804.46 490.42L810.72 487.64L816.98 484.87L823.24 482.1L829.5 479.33L835.76 476.56L842.02 473.78L848.28 471.01L854.54 468.24L860.8 465.47L867.06 462.71L873.32 459.94L879.58 457.17L885.84 454.41L892.1 451.64L898.36 448.88L904.62 446.11L910.88 443.35L917.14 440.59L923.4 437.83L929.66 435.07L935.92 432.31L942.18 429.55L948.44 426.8L954.7 424.04L960.96 421.28L967.22 418.53L973.48 415.78L979.74 413.02L986 410.27L992.26 407.52L998.52 404.77L1004.78 402.03L1011.04 399.28L1017.3 396.54L1023.56 393.8L1029.82 391.06L1036.08 388.32L1042.34 385.59L1048.6 382.85L1054.86 380.11L1061.12 377.38L1067.38 374.64L1073.64 371.91L1079.9 369.17L1086.16 366.43L1092.42 363.7L1098.68 360.96L1104.94 358.22L1111.2 355.48L1117.46 352.74L1123.72 349.99L1129.98 347.25L1136.24 344.5L1142.5 341.75L1148.76 338.99L1155.02 336.22L1161.28 333.45L1167.54 330.66L1173.8 327.87L1180.06 325.08L1186.32 322.28L1192.58 319.48L1198.84 316.67L1205.1 313.87L1211.36 311.07L1217.62 308.27L1223.88 305.47L1230.14 302.68L1236.4 299.9L1242.66 297.12L1248.92 294.35L1255.18 291.59L1261.44 288.85L1267.7 286.12L1273.96 283.4L1280.22 280.69L1286.48 278.01L1292.74 275.34L1299 272.69L1305.26 270.05L1311.52 267.43L1317.78 264.81L1324.04 262.2L1330.3 259.6L1336.56 257.01L1342.82 254.43L1349.08 251.85L1355.34 249.29L1361.6 246.73L1367.86 244.19L1374.12 241.65L1380.38 239.12L1386.64 236.6L1392.9 234.09L1399.16 231.59L1405.42 229.1L1411.68 226.62L1417.94 224.15L1424.2 221.69L1430.46 219.23L1436.72 216.79L1442.98 214.36L1449.24 211.93L1455.5 209.52" stroke="#ff0000" stroke-width="6.9" stroke-dasharray="5.9 6.97"/>
<path clip-path="url(#clipa)" d="M234.8 730.4L241.06 729.07L247.32 727.58L253.58 725.95L259.84 724.18L266.1 722.3L272.36 720.22L278.62 717.9L284.88 715.41L291.14 712.83L297.4 710.24L303.66 707.71L309.92 705.24L316.18 702.76L322.44 700.28L328.7 697.78L334.96 695.25L341.22 692.69L347.48 690.11L353.74 687.5L360 684.89L366.26 682.26L372.52 679.62L378.78 676.97L385.04 674.31L391.3 671.63L397.56 668.95L403.82 666.26L410.08 663.55L416.34 660.84L422.6 658.12L428.86 655.39L435.12 652.65L441.38 649.9L447.64 647.15L453.9 644.38L460.16 641.61L466.42 638.83L472.68 636.05L478.94 633.25L485.2 630.45L491.46 627.65L497.72 624.84L503.98 622.02L510.24 619.2L516.5 616.37L522.76 613.53L529.02 610.68L535.28 607.8L541.54 604.91L547.8 602L554.06 599.08L560.32 596.14L566.58 593.2L572.84 590.24L579.1 587.28L585.36 584.32L591.62 581.35L597.88 578.37L604.14 575.4L610.4 572.42L616.66 569.45L622.92 566.48L629.18 563.52L635.44 560.56L641.7 557.61L647.96 554.67L654.22 551.74L660.48 548.82L666.74 545.92L673 543.03L679.26 540.16L685.52 537.28L691.78 534.41L698.04 531.55L704.3 528.69L710.56 525.83L716.82 522.98L723.08 520.13L729.34 517.29L735.6 514.45L741.86 511.61L748.12 508.78L754.38 505.95L760.64 503.13L766.9 500.31L773.16 497.5L779.42 494.69L785.68 491.88L791.94 489.08L798.2 486.29L804.46 483.49L810.72 480.71L816.98 477.92L823.24 475.14L829.5 472.37L835.76 469.6L842.02 466.84L848.28 464.08L854.54 461.33L860.8 458.58L867.06 455.83L873.32 453.1L879.58 450.36L885.84 447.63L892.1 444.91L898.36 442.19L904.62 439.47L910.88 436.75L917.14 434.04L923.4 431.33L929.66 428.63L935.92 425.93L942.18 423.23L948.44 420.53L954.7 417.83L960.96 415.14L967.22 412.45L973.48 409.76L979.74 407.07L986 404.38L992.26 401.7L998.52 399.01L1004.78 396.33L1011.04 393.65L1017.3 390.98L1023.56 388.3L1029.82 385.63L1036.08 382.97L1042.34 380.3L1048.6 377.64L1054.86 374.98L1061.12 372.32L1067.38 369.66L1073.64 367.01L1079.9 364.36L1086.16 361.71L1092.42 359.07L1098.68 356.42L1104.94 353.78L1111.2 351.15L1117.46 348.51L1123.72 345.88L1129.98 343.25L1136.24 340.62L1142.5 338L1148.76 335.38L1155.02 332.75L1161.28 330.13L1167.54 327.51L1173.8 324.88L1180.06 322.26L1186.32 319.64L1192.58 317.02L1198.84 314.4L1205.1 311.79L1211.36 309.18L1217.62 306.57L1223.88 303.97L1230.14 301.37L1236.4 298.78L1242.66 296.19L1248.92 293.61L1255.18 291.04L1261.44 288.47L1267.7 285.91L1273.96 283.35L1280.22 280.81L1286.48 278.27L1292.74 275.74L1299 273.23L1305.26 270.71L1311.52 268.21L1317.78 265.71L1324.04 263.22L1330.3 260.73L1336.56 258.24L1342.82 255.77L1349.08 253.3L1355.34 250.83L1361.6 248.37L1367.86 245.92L1374.12 243.47L1380.38 241.03L1386.64 238.59L1392.9 236.16L1399.16 233.74L1405.42 231.32L1411.68 228.91L1417.94 226.5L1424.2 224.1L1430.46 221.71L1436.72 219.32L1442.98 216.94L1449.24 214.57L1455.5 212.2" stroke="#000000" stroke-width="6.9" stroke-dasharray="5.9 6.97"/>
<path clip-path="url(#clipa)" d="M234.8 730.4L241.06 729.21L247.32 727.88L253.58 726.43L259.84 724.85L266.1 723.18L272.36 721.32L278.62 719.25L284.88 717.03L291.14 714.73L297.4 712.41L303.66 710.16L309.92 707.96L316.18 705.75L322.44 703.53L328.7 701.3L334.96 699.05L341.22 696.77L347.48 694.46L353.74 692.14L360 689.81L366.26 687.47L372.52 685.13L378.78 682.77L385.04 680.41L391.3 678.04L397.56 675.65L403.82 673.26L410.08 670.87L416.34 668.46L422.6 666.04L428.86 663.62L435.12 661.18L441.38 658.74L447.64 656.28L453.9 653.82L460.16 651.35L466.42 648.87L472.68 646.38L478.94 643.88L485.2 641.37L491.46 638.85L497.72 636.33L503.98 633.79L510.24 631.24L516.5 628.69L522.76 626.12L529.02 623.53L535.28 620.93L541.54 618.31L547.8 615.68L554.06 613.04L560.32 610.39L566.58 607.72L572.84 605.04L579.1 602.35L585.36 599.65L591.62 596.94L597.88 594.23L604.14 591.5L610.4 588.77L616.66 586.03L622.92 583.29L629.18 580.54L635.44 577.79L641.7 575.04L647.96 572.28L654.22 569.52L660.48 566.76L666.74 564L673 561.23L679.26 558.47L685.52 555.7L691.78 552.92L698.04 550.13L704.3 547.34L710.56 544.54L716.82 541.73L723.08 538.92L729.34 536.1L735.6 533.28L741.86 530.46L748.12 527.62L754.38 524.79L760.64 521.95L766.9 519.11L773.16 516.26L779.42 513.42L785.68 510.56L791.94 507.71L798.2 504.86L804.46 502L810.72 499.14L816.98 496.29L823.24 493.43L829.5 490.57L835.76 487.71L842.02 484.84L848.28 481.97L854.54 479.09L860.8 476.21L867.06 473.33L873.32 470.44L879.58 467.55L885.84 464.65L892.1 461.75L898.36 458.85L904.62 455.95L910.88 453.05L917.14 450.15L923.4 447.25L929.66 444.35L935.92 441.44L942.18 438.54L948.44 435.64L954.7 432.75L960.96 429.85L967.22 426.96L973.48 424.07L979.74 421.18L986 418.3L992.26 415.42L998.52 412.53L1004.78 409.64L1011.04 406.74L1017.3 403.84L1023.56 400.94L1029.82 398.04L1036.08 395.13L1042.34 392.23L1048.6 389.33L1054.86 386.43L1061.12 383.53L1067.38 380.64L1073.64 377.76L1079.9 374.88L1086.16 372L1092.42 369.13L1098.68 366.27L1104.94 363.43L1111.2 360.59L1117.46 357.76L1123.72 354.94L1129.98 352.13L1136.24 349.34L1142.5 346.57L1148.76 343.8L1155.02 341.04L1161.28 338.28L1167.54 335.54L1173.8 332.8L1180.06 330.06L1186.32 327.33L1192.58 324.61L1198.84 321.9L1205.1 319.2L1211.36 316.5L1217.62 313.81L1223.88 311.13L1230.14 308.46L1236.4 305.79L1242.66 303.14L1248.92 300.49L1255.18 297.85L1261.44 295.22L1267.7 292.6L1273.96 289.99L1280.22 287.39L1286.48 284.8L1292.74 282.22L1299 279.65L1305.26 277.09L1311.52 274.53L1317.78 271.99L1324.04 269.45L1330.3 266.92L1336.56 264.4L1342.82 261.89L1349.08 259.38L1355.34 256.89L1361.6 254.4L1367.86 251.92L1374.12 249.45L1380.38 246.98L1386.64 244.53L1392.9 242.08L1399.16 239.64L1405.42 237.21L1411.68 234.79L1417.94 232.38L1424.2 229.97L1430.46 227.58L1436.72 225.19L1442.98 222.81L1449.24 220.45L1455.5 218.09L1463.5 215.07" stroke="#0000ff" stroke-width="11.2" stroke-linejoin="round"/>
<path d="M1455.9 218.09H1459.98A4.48 5.6 0 0 1 1455.9 223.67Z" fill="#0000ff"/>
<path clip-path="url(#clipa)" d="M234.8 730.4L241.06 728.95L247.32 727.34L253.58 725.57L259.84 723.66L266.1 721.62L272.36 719.36L278.62 716.84L284.88 714.14L291.14 711.34L297.4 708.53L303.66 705.79L309.92 703.11L316.18 700.43L322.44 697.73L328.7 695.02L334.96 692.28L341.22 689.51L347.48 686.7L353.74 683.88L360 681.05L366.26 678.21L372.52 675.37L378.78 672.51L385.04 669.64L391.3 666.76L397.56 663.87L403.82 660.97L410.08 658.06L416.34 655.14L422.6 652.21L428.86 649.26L435.12 646.31L441.38 643.34L447.64 640.36L453.9 637.37L460.16 634.37L466.42 631.35L472.68 628.32L478.94 625.28L485.2 622.22L491.46 619.15L497.72 616.07L503.98 612.97L510.24 609.86L516.5 606.74L522.76 603.59L529.02 600.42L535.28 597.23L541.54 594.01L547.8 590.77L554.06 587.51L560.32 584.23L566.58 580.93L572.84 577.62L579.1 574.3L585.36 570.96L591.62 567.61L597.88 564.26L604.14 560.89L610.4 557.52L616.66 554.14L622.92 550.76L629.18 547.37L635.44 543.99L641.7 540.61L647.96 537.23L654.22 533.85L660.48 530.48L666.74 527.12L673 523.76L679.26 520.41L685.52 517.06L691.78 513.71L698.04 510.35L704.3 507L710.56 503.64L716.82 500.28L723.08 496.92L729.34 493.56L735.6 490.2L741.86 486.83L748.12 483.46L754.38 480.08L760.64 476.7L766.9 473.32L773.16 469.93L779.42 466.53L785.68 463.14L791.94 459.73L798.2 456.32L804.46 452.91L810.72 449.49L816.98 446.06L823.24 442.62L829.5 439.18L835.76 435.72L842.02 432.25L848.28 428.77L854.54 425.27L860.8 421.76L867.06 418.24L873.32 414.71L879.58 411.17L885.84 407.63L892.1 404.09L898.36 400.54L904.62 396.99L910.88 393.44L917.14 389.89L923.4 386.34L929.66 382.8L935.92 379.27L942.18 375.74L948.44 372.22L954.7 368.71L960.96 365.22L967.22 361.74L973.48 358.27L979.74 354.82L986 351.38L992.26 347.96L998.52 344.55L1004.78 341.14L1011.04 337.75L1017.3 334.35L1023.56 330.97L1029.82 327.59L1036.08 324.22L1042.34 320.85L1048.6 317.49L1054.86 314.14L1061.12 310.8L1067.38 307.46L1073.64 304.13L1079.9 300.8L1086.16 297.48L1092.42 294.17L1098.68 290.86L1104.94 287.56L1111.2 284.26L1117.46 280.97L1123.72 277.69L1129.98 274.41L1136.24 271.14L1142.5 267.87L1148.76 264.61L1155.02 261.35L1161.28 258.09L1167.54 254.83L1173.8 251.58L1180.06 248.33L1186.32 245.08L1192.58 241.84L1198.84 238.61L1205.1 235.38L1211.36 232.16L1217.62 228.95L1223.88 225.74L1230.14 222.54L1236.4 219.36L1242.66 216.18L1248.92 213.01L1255.18 209.85L1261.44 206.71L1267.7 203.57L1273.96 200.45L1280.22 197.34L1286.48 194.25L1292.74 191.17L1299 188.11L1305.26 185.06L1311.52 182.01L1317.78 178.98L1324.04 175.96L1330.3 172.94L1336.56 169.94L1342.82 166.94L1349.08 163.96L1355.34 160.98L1361.6 158.02L1367.86 155.06L1374.12 152.12L1380.38 149.18L1386.64 146.26L1392.9 143.34L1399.16 140.44L1405.42 137.55L1411.68 134.66L1417.94 131.79L1424.2 128.93L1430.46 126.07L1436.72 123.23L1442.98 120.4L1449.24 117.58L1455.5 114.77" stroke="#0000ff" stroke-width="6.9" stroke-dasharray="5.9 6.97"/>
<path clip-path="url(#clipa)" d="M234.8 730.4L241.06 729.42L247.32 728.32L253.58 727.12L259.84 725.82L266.1 724.43L272.36 722.9L278.62 721.19L284.88 719.35L291.14 717.45L297.4 715.54L303.66 713.67L309.92 711.85L316.18 710.03L322.44 708.2L328.7 706.35L334.96 704.49L341.22 702.61L347.48 700.7L353.74 698.78L360 696.85L366.26 694.91L372.52 692.96L378.78 691.01L385.04 689.04L391.3 687.07L397.56 685.09L403.82 683.1L410.08 681.1L416.34 679.1L422.6 677.09L428.86 675.08L435.12 673.05L441.38 671.03L447.64 668.99L453.9 666.96L460.16 664.91L466.42 662.87L472.68 660.81L478.94 658.76L485.2 656.7L491.46 654.63L497.72 652.57L503.98 650.5L510.24 648.43L516.5 646.35L522.76 644.28L529.02 642.2L535.28 640.11L541.54 638.03L547.8 635.94L554.06 633.85L560.32 631.75L566.58 629.64L572.84 627.54L579.1 625.42L585.36 623.3L591.62 621.18L597.88 619.04L604.14 616.91L610.4 614.76L616.66 612.6L622.92 610.44L629.18 608.27L635.44 606.09L641.7 603.91L647.96 601.71L654.22 599.5L660.48 597.28L666.74 595.06L673 592.82L679.26 590.57L685.52 588.3L691.78 586.03L698.04 583.74L704.3 581.43L710.56 579.12L716.82 576.8L723.08 574.46L729.34 572.12L735.6 569.77L741.86 567.41L748.12 565.04L754.38 562.67L760.64 560.29L766.9 557.91L773.16 555.52L779.42 553.13L785.68 550.73L791.94 548.33L798.2 545.93L804.46 543.53L810.72 541.13L816.98 538.73L823.24 536.33L829.5 533.93L835.76 531.53L842.02 529.12L848.28 526.69L854.54 524.26L860.8 521.82L867.06 519.38L873.32 516.93L879.58 514.47L885.84 512.01L892.1 509.55L898.36 507.08L904.62 504.62L910.88 502.15L917.14 499.69L923.4 497.22L929.66 494.76L935.92 492.31L942.18 489.86L948.44 487.41L954.7 484.97L960.96 482.54L967.22 480.11L973.48 477.7L979.74 475.3L986 472.9L992.26 470.52L998.52 468.15L1004.78 465.78L1011.04 463.42L1017.3 461.07L1023.56 458.72L1029.82 456.38L1036.08 454.04L1042.34 451.71L1048.6 449.38L1054.86 447.05L1061.12 444.73L1067.38 442.41L1073.64 440.09L1079.9 437.77L1086.16 435.45L1092.42 433.13L1098.68 430.82L1104.94 428.5L1111.2 426.18L1117.46 423.86L1123.72 421.54L1129.98 419.21L1136.24 416.89L1142.5 414.55L1148.76 412.22L1155.02 409.87L1161.28 407.52L1167.54 405.16L1173.8 402.8L1180.06 400.44L1186.32 398.07L1192.58 395.71L1198.84 393.34L1205.1 390.97L1211.36 388.61L1217.62 386.24L1223.88 383.88L1230.14 381.53L1236.4 379.18L1242.66 376.84L1248.92 374.5L1255.18 372.18L1261.44 369.86L1267.7 367.55L1273.96 365.25L1280.22 362.97L1286.48 360.7L1292.74 358.44L1299 356.2L1305.26 353.97L1311.52 351.75L1317.78 349.53L1324.04 347.32L1330.3 345.12L1336.56 342.93L1342.82 340.74L1349.08 338.56L1355.34 336.39L1361.6 334.23L1367.86 332.07L1374.12 329.92L1380.38 327.78L1386.64 325.64L1392.9 323.51L1399.16 321.39L1405.42 319.28L1411.68 317.18L1417.94 315.08L1424.2 312.99L1430.46 310.91L1436.72 308.84L1442.98 306.77L1449.24 304.72L1455.5 302.67" stroke="#0000ff" stroke-width="6.9" stroke-dasharray="5.9 6.97"/>
<path clip-path="url(#clipa)" d="M234.8 730.4L241.06 729.16L247.32 727.78L253.58 726.27L259.84 724.64L266.1 722.91L272.36 720.99L278.62 718.86L284.88 716.58L291.14 714.21L297.4 711.84L303.66 709.52L309.92 707.25L316.18 704.98L322.44 702.7L328.7 700.39L334.96 698.07L341.22 695.72L347.48 693.34L353.74 690.95L360 688.54L366.26 686.13L372.52 683.71L378.78 681.28L385.04 678.84L391.3 676.39L397.56 673.93L403.82 671.46L410.08 668.98L416.34 666.49L422.6 663.99L428.86 661.49L435.12 658.97L441.38 656.45L447.64 653.92L453.9 651.37L460.16 648.82L466.42 646.26L472.68 643.7L478.94 641.12L485.2 638.53L491.46 635.94L497.72 633.34L503.98 630.72L510.24 628.1L516.5 625.47L522.76 622.83L529.02 620.18L535.28 617.51L541.54 614.82L547.8 612.12L554.06 609.41L560.32 606.68L566.58 603.95L572.84 601.2L579.1 598.44L585.36 595.68L591.62 592.9L597.88 590.12L604.14 587.33L610.4 584.54L616.66 581.74L622.92 578.94L629.18 576.13L635.44 573.31L641.7 570.5L647.96 567.68L654.22 564.87L660.48 562.05L666.74 559.23L673 556.42L679.26 553.6L685.52 550.77L691.78 547.93L698.04 545.09L704.3 542.24L710.56 539.38L716.82 536.51L723.08 533.64L729.34 530.77L735.6 527.89L741.86 525.01L748.12 522.13L754.38 519.24L760.64 516.36L766.9 513.47L773.16 510.58L779.42 507.69L785.68 504.81L791.94 501.92L798.2 499.04L804.46 496.16L810.72 493.28L816.98 490.41L823.24 487.54L829.5 484.68L835.76 481.82L842.02 478.96L848.28 476.1L854.54 473.24L860.8 470.38L867.06 467.52L873.32 464.66L879.58 461.8L885.84 458.94L892.1 456.09L898.36 453.23L904.62 450.37L910.88 447.52L917.14 444.67L923.4 441.82L929.66 438.97L935.92 436.13L942.18 433.29L948.44 430.45L954.7 427.61L960.96 424.78L967.22 421.95L973.48 419.12L979.74 416.3L986 413.48L992.26 410.67L998.52 407.85L1004.78 405.03L1011.04 402.22L1017.3 399.4L1023.56 396.59L1029.82 393.77L1036.08 390.96L1042.34 388.15L1048.6 385.35L1054.86 382.54L1061.12 379.74L1067.38 376.95L1073.64 374.16L1079.9 371.37L1086.16 368.59L1092.42 365.82L1098.68 363.05L1104.94 360.29L1111.2 357.54L1117.46 354.79L1123.72 352.05L1129.98 349.32L1136.24 346.6L1142.5 343.89L1148.76 341.19L1155.02 338.49L1161.28 335.79L1167.54 333.11L1173.8 330.43L1180.06 327.75L1186.32 325.08L1192.58 322.41L1198.84 319.76L1205.1 317.1L1211.36 314.46L1217.62 311.82L1223.88 309.18L1230.14 306.55L1236.4 303.93L1242.66 301.31L1248.92 298.7L1255.18 296.1L1261.44 293.5L1267.7 290.91L1273.96 288.32L1280.22 285.74L1286.48 283.17L1292.74 280.6L1299 278.04L1305.26 275.49L1311.52 272.94L1317.78 270.4L1324.04 267.86L1330.3 265.33L1336.56 262.81L1342.82 260.29L1349.08 257.77L1355.34 255.26L1361.6 252.76L1367.86 250.27L1374.12 247.78L1380.38 245.29L1386.64 242.81L1392.9 240.34L1399.16 237.87L1405.42 235.41L1411.68 232.96L1417.94 230.51L1424.2 228.07L1430.46 225.63L1436.72 223.2L1442.98 220.77L1449.24 218.36L1455.5 215.94L1463.5 212.86" stroke="#ff00ff" stroke-width="11.2" stroke-linejoin="round"/>
<path d="M1455.9 215.94H1459.98A4.48 5.6 0 0 1 1455.9 221.53Z" fill="#ff00ff"/>
<path clip-path="url(#clipa)" d="M234.8 730.4L241.06 728.82L247.32 727.05L253.58 725.11L259.84 723.02L266.1 720.78L272.36 718.31L278.62 715.55L284.88 712.59L291.14 709.53L297.4 706.45L303.66 703.45L309.92 700.51L316.18 697.57L322.44 694.62L328.7 691.65L334.96 688.65L341.22 685.61L347.48 682.54L353.74 679.45L360 676.34L366.26 673.23L372.52 670.1L378.78 666.95L385.04 663.8L391.3 660.63L397.56 657.45L403.82 654.26L410.08 651.06L416.34 647.84L422.6 644.62L428.86 641.38L435.12 638.13L441.38 634.87L447.64 631.6L453.9 628.32L460.16 625.03L466.42 621.73L472.68 618.41L478.94 615.09L485.2 611.76L491.46 608.42L497.72 605.07L503.98 601.71L510.24 598.34L516.5 594.96L522.76 591.57L529.02 588.16L535.28 584.74L541.54 581.3L547.8 577.84L554.06 574.37L560.32 570.89L566.58 567.4L572.84 563.89L579.1 560.37L585.36 556.84L591.62 553.3L597.88 549.75L604.14 546.19L610.4 542.62L616.66 539.05L622.92 535.47L629.18 531.88L635.44 528.28L641.7 524.68L647.96 521.08L654.22 517.47L660.48 513.86L666.74 510.25L673 506.63L679.26 503.01L685.52 499.36L691.78 495.71L698.04 492.04L704.3 488.35L710.56 484.66L716.82 480.96L723.08 477.24L729.34 473.52L735.6 469.8L741.86 466.07L748.12 462.33L754.38 458.59L760.64 454.86L766.9 451.12L773.16 447.38L779.42 443.65L785.68 439.92L791.94 436.19L798.2 432.47L804.46 428.76L810.72 425.06L816.98 421.37L823.24 417.69L829.5 414.02L835.76 410.36L842.02 406.69L848.28 403.03L854.54 399.37L860.8 395.71L867.06 392.05L873.32 388.39L879.58 384.74L885.84 381.09L892.1 377.44L898.36 373.8L904.62 370.16L910.88 366.52L917.14 362.9L923.4 359.28L929.66 355.66L935.92 352.06L942.18 348.46L948.44 344.87L954.7 341.29L960.96 337.72L967.22 334.16L973.48 330.61L979.74 327.07L986 323.55L992.26 320.03L998.52 316.52L1004.78 313.02L1011.04 309.52L1017.3 306.04L1023.56 302.56L1029.82 299.08L1036.08 295.62L1042.34 292.16L1048.6 288.71L1054.86 285.27L1061.12 281.83L1067.38 278.4L1073.64 274.98L1079.9 271.57L1086.16 268.17L1092.42 264.77L1098.68 261.38L1104.94 258L1111.2 254.63L1117.46 251.27L1123.72 247.91L1129.98 244.56L1136.24 241.22L1142.5 237.89L1148.76 234.57L1155.02 231.24L1161.28 227.92L1167.54 224.6L1173.8 221.28L1180.06 217.97L1186.32 214.66L1192.58 211.36L1198.84 208.07L1205.1 204.79L1211.36 201.51L1217.62 198.25L1223.88 194.99L1230.14 191.75L1236.4 188.52L1242.66 185.3L1248.92 182.09L1255.18 178.9L1261.44 175.73L1267.7 172.57L1273.96 169.43L1280.22 166.31L1286.48 163.2L1292.74 160.12L1299 157.06L1305.26 154.01L1311.52 150.98L1317.78 147.96L1324.04 144.95L1330.3 141.95L1336.56 138.97L1342.82 135.99L1349.08 133.04L1355.34 130.09L1361.6 127.16L1367.86 124.24L1374.12 121.33L1380.38 118.44L1386.64 115.56L1392.9 112.69L1399.16 109.84L1405.42 107L1411.68 104.17L1417.94 101.36L1424.2 98.56L1430.46 95.78L1436.72 93.01L1442.98 90.26L1448.13 88" stroke="#ff00ff" stroke-width="6.9" stroke-dasharray="5.9 6.97"/>
<path clip-path="url(#clipa)" d="M234.8 730.4L241.06 729.44L247.32 728.36L253.58 727.18L259.84 725.91L266.1 724.55L272.36 723.04L278.62 721.36L284.88 719.56L291.14 717.7L297.4 715.82L303.66 713.99L309.92 712.21L316.18 710.42L322.44 708.62L328.7 706.81L334.96 704.99L341.22 703.14L347.48 701.27L353.74 699.38L360 697.49L366.26 695.58L372.52 693.67L378.78 691.75L385.04 689.82L391.3 687.88L397.56 685.93L403.82 683.98L410.08 682.02L416.34 680.05L422.6 678.08L428.86 676.1L435.12 674.11L441.38 672.12L447.64 670.12L453.9 668.12L460.16 666.12L466.42 664.11L472.68 662.1L478.94 660.09L485.2 658.07L491.46 656.05L497.72 654.03L503.98 652.01L510.24 649.98L516.5 647.96L522.76 645.93L529.02 643.91L535.28 641.88L541.54 639.84L547.8 637.81L554.06 635.77L560.32 633.73L566.58 631.68L572.84 629.63L579.1 627.58L585.36 625.52L591.62 623.45L597.88 621.38L604.14 619.31L610.4 617.23L616.66 615.14L622.92 613.04L629.18 610.94L635.44 608.84L641.7 606.72L647.96 604.6L654.22 602.47L660.48 600.33L666.74 598.19L673 596.03L679.26 593.87L685.52 591.69L691.78 589.5L698.04 587.29L704.3 585.08L710.56 582.86L716.82 580.63L723.08 578.39L729.34 576.15L735.6 573.89L741.86 571.63L748.12 569.37L754.38 567.1L760.64 564.83L766.9 562.56L773.16 560.28L779.42 558L785.68 555.72L791.94 553.45L798.2 551.17L804.46 548.89L810.72 546.62L816.98 544.35L823.24 542.08L829.5 539.82L835.76 537.56L842.02 535.3L848.28 533.03L854.54 530.75L860.8 528.48L867.06 526.2L873.32 523.93L879.58 521.65L885.84 519.37L892.1 517.08L898.36 514.8L904.62 512.52L910.88 510.24L917.14 507.96L923.4 505.68L929.66 503.41L935.92 501.13L942.18 498.86L948.44 496.59L954.7 494.33L960.96 492.07L967.22 489.81L973.48 487.56L979.74 485.32L986 483.08L992.26 480.84L998.52 478.61L1004.78 476.38L1011.04 474.15L1017.3 471.93L1023.56 469.71L1029.82 467.49L1036.08 465.28L1042.34 463.06L1048.6 460.85L1054.86 458.65L1061.12 456.44L1067.38 454.24L1073.64 452.04L1079.9 449.84L1086.16 447.64L1092.42 445.45L1098.68 443.25L1104.94 441.06L1111.2 438.87L1117.46 436.68L1123.72 434.49L1129.98 432.31L1136.24 430.12L1142.5 427.94L1148.76 425.75L1155.02 423.57L1161.28 421.38L1167.54 419.2L1173.8 417.01L1180.06 414.83L1186.32 412.64L1192.58 410.46L1198.84 408.28L1205.1 406.1L1211.36 403.92L1217.62 401.75L1223.88 399.58L1230.14 397.41L1236.4 395.25L1242.66 393.09L1248.92 390.93L1255.18 388.78L1261.44 386.63L1267.7 384.49L1273.96 382.35L1280.22 380.22L1286.48 378.1L1292.74 375.98L1299 373.87L1305.26 371.76L1311.52 369.66L1317.78 367.56L1324.04 365.47L1330.3 363.38L1336.56 361.29L1342.82 359.21L1349.08 357.14L1355.34 355.06L1361.6 352.99L1367.86 350.93L1374.12 348.87L1380.38 346.81L1386.64 344.76L1392.9 342.71L1399.16 340.67L1405.42 338.63L1411.68 336.6L1417.94 334.57L1424.2 332.54L1430.46 330.52L1436.72 328.5L1442.98 326.49L1449.24 324.48L1455.5 322.48" stroke="#ff00ff" stroke-width="6.9" stroke-dasharray="5.9 6.97"/>
</g>
<rect x="240" y="125" width="374.8" height="363.9" fill="#ffffff" stroke="#262626" stroke-width="3.4"/>
<path d="M251 154.85H358.2" stroke="#000000" stroke-width="14" fill="none"/>
<text x="366" y="171.85" class="lg">w0s0c0t0 (<tspan x="559.5" style="font-family:'DejaVu Serif',serif;font-style:italic;font-weight:normal;font-size:41px">&#956;</tspan><tspan x="588.3">)</tspan></text>
<path d="M251 205.52H358.2" stroke="#000000" stroke-width="6.9" stroke-dasharray="5.9 7.15" fill="none"/>
<text x="366" y="222.52" class="lg">(90%-CI)</text>
<path d="M251 256.19H358.2" stroke="#00cc00" stroke-width="11.2" fill="none"/>
<text x="366" y="273.19" class="lg">w15s0c0</text>
<path d="M251 306.86H358.2" stroke="#ff8000" stroke-width="11.2" fill="none"/>
<text x="366" y="323.86" class="lg">w15s3c0</text>
<path d="M251 357.53H358.2" stroke="#ff0000" stroke-width="11.2" fill="none"/>
<text x="366" y="374.53" class="lg">w15s7c0</text>
<path d="M251 408.2H358.2" stroke="#0000ff" stroke-width="11.2" fill="none"/>
<text x="366" y="425.2" class="lg">w15s0c3</text>
<path d="M251 458.87H358.2" stroke="#ff00ff" stroke-width="11.2" fill="none"/>
<text x="366" y="475.87" class="lg">w15s3c5</text>
<text x="183.6" y="750.3" text-anchor="end" class="t">0</text>
<text x="183.6" y="643.23" text-anchor="end" class="t">20</text>
<text x="183.6" y="536.17" text-anchor="end" class="t">40</text>
<text x="183.6" y="429.1" text-anchor="end" class="t">60</text>
<text x="183.6" y="322.03" text-anchor="end" class="t">80</text>
<text x="183.6" y="214.97" text-anchor="end" class="t">100</text>
<text x="183.6" y="107.9" text-anchor="end" class="t">120</text>
<text x="201.3" y="803.2" text-anchor="middle" class="t">0</text>
<text x="357.8" y="803.2" text-anchor="middle" class="t">0.5</text>
<text x="514.3" y="803.2" text-anchor="middle" class="t">1</text>
<text x="670.8" y="803.2" text-anchor="middle" class="t">1.5</text>
<text x="827.3" y="803.2" text-anchor="middle" class="t">2</text>
<text x="983.8" y="803.2" text-anchor="middle" class="t">2.5</text>
<text x="1140.3" y="803.2" text-anchor="middle" class="t">3</text>
<text x="1296.8" y="803.2" text-anchor="middle" class="t">3.5</text>
<text x="1453.3" y="803.2" text-anchor="middle" class="t">4</text>
<text x="828.6" y="877.6" text-anchor="middle" class="l" style="font-size:63.5px">CMOD (mm)</text>
<text transform="translate(74.6 412.8) rotate(-90)" text-anchor="middle" class="l" style="font-size:62.5px">Work (kJ)</text>
<text x="828.5" y="65.3" text-anchor="middle" class="ti">a)</text>
<g shape-rendering="crispEdges">
<g fill="#161616"><rect x="358" y="982" width="4" height="641"/><rect x="515" y="982" width="3" height="641"/><rect x="671" y="982" width="4" height="641"/><rect x="828" y="982" width="3" height="641"/><rect x="984" y="982" width="4" height="641"/><rect x="1141" y="982" width="3" height="641"/><rect x="1297" y="982" width="4" height="641"/><rect x="205" y="1516" width="1249" height="3"/><rect x="205" y="1408" width="1249" height="4"/><rect x="205" y="1301" width="1249" height="3"/><rect x="205" y="1194" width="1249" height="3"/><rect x="205" y="1086" width="1249" height="4"/></g>
<path d="M359.5 983V1623M515.5 983V1623M672.5 983V1623M828.5 983V1623M985.5 983V1623M1141.5 983V1623M1298.5 983V1623M206 1517.5H1454M206 1409.5H1454M206 1302.5H1454M206 1195.5H1454M206 1087.5H1454" stroke="#fff" stroke-width="1" stroke-dasharray="1 1 1 1 1 3" fill="none"/>
<path d="M361.5 985V1623M517.5 985V1623M674.5 985V1623M830.5 985V1623M987.5 985V1623M1143.5 985V1623M1300.5 985V1623M206 1411.5H1454M206 1089.5H1454" stroke="#fff" stroke-width="1" stroke-dasharray="1 3" fill="none"/>
<g fill="#262626"><rect x="358" y="982" width="4" height="14"/><rect x="358" y="1609" width="4" height="14"/><rect x="515" y="982" width="3" height="14"/><rect x="515" y="1609" width="3" height="14"/><rect x="671" y="982" width="4" height="14"/><rect x="671" y="1609" width="4" height="14"/><rect x="828" y="982" width="3" height="14"/><rect x="828" y="1609" width="3" height="14"/><rect x="984" y="982" width="4" height="14"/><rect x="984" y="1609" width="4" height="14"/><rect x="1141" y="982" width="3" height="14"/><rect x="1141" y="1609" width="3" height="14"/><rect x="1297" y="982" width="4" height="14"/><rect x="1297" y="1609" width="4" height="14"/><rect x="205" y="1516" width="13" height="3"/><rect x="1441" y="1516" width="13" height="3"/><rect x="205" y="1408" width="13" height="4"/><rect x="1441" y="1408" width="13" height="4"/><rect x="205" y="1301" width="13" height="3"/><rect x="1441" y="1301" width="13" height="3"/><rect x="205" y="1194" width="13" height="3"/><rect x="1441" y="1194" width="13" height="3"/><rect x="205" y="1086" width="13" height="4"/><rect x="1441" y="1086" width="13" height="4"/></g>
</g>
<g fill="#262626" shape-rendering="crispEdges"><rect x="202" y="979" width="1255" height="3"/><rect x="202" y="1623" width="1255" height="4"/><rect x="202" y="979" width="3" height="648"/><rect x="1454" y="979" width="3" height="648"/></g>
<g fill="none">
<path clip-path="url(#clipb)" d="M297.4 1624.9L303.66 1622.57L309.92 1620.28L316.18 1618.02L322.44 1615.79L328.7 1613.6L334.96 1611.44L341.22 1609.31L347.48 1607.21L353.74 1605.14L360 1603.1L366.26 1601.12L372.52 1599.23L378.78 1597.38L385.04 1595.52L391.3 1593.61L397.56 1591.61L403.82 1589.51L410.08 1587.35L416.34 1585.13L422.6 1582.86L428.86 1580.55L435.12 1578.2L441.38 1575.82L447.64 1573.43L453.9 1571.01L460.16 1568.59L466.42 1566.17L472.68 1563.75L478.94 1561.34L485.2 1558.96L491.46 1556.6L497.72 1554.28L503.98 1551.99L510.24 1549.75L516.5 1547.57L522.76 1545.44L529.02 1543.35L535.28 1541.29L541.54 1539.26L547.8 1537.26L554.06 1535.28L560.32 1533.33L566.58 1531.39L572.84 1529.47L579.1 1527.55L585.36 1525.65L591.62 1523.74L597.88 1521.84L604.14 1519.93L610.4 1518.01L616.66 1516.08L622.92 1514.14L629.18 1512.18L635.44 1510.19L641.7 1508.18L647.96 1506.15L654.22 1504.08L660.48 1501.97L666.74 1499.82L673 1497.63L679.26 1495.4L685.52 1493.12L691.78 1490.81L698.04 1488.46L704.3 1486.07L710.56 1483.66L716.82 1481.22L723.08 1478.76L729.34 1476.27L735.6 1473.76L741.86 1471.23L748.12 1468.7L754.38 1466.15L760.64 1463.59L766.9 1461.02L773.16 1458.45L779.42 1455.88L785.68 1453.31L791.94 1450.75L798.2 1448.19L804.46 1445.64L810.72 1443.11L816.98 1440.59L823.24 1438.09L829.5 1435.61L835.76 1433.13L842.02 1430.66L848.28 1428.17L854.54 1425.69L860.8 1423.2L867.06 1420.71L873.32 1418.22L879.58 1415.73L885.84 1413.24L892.1 1410.75L898.36 1408.26L904.62 1405.78L910.88 1403.29L917.14 1400.82L923.4 1398.35L929.66 1395.88L935.92 1393.43L942.18 1390.98L948.44 1388.54L954.7 1386.11L960.96 1383.69L967.22 1381.28L973.48 1378.88L979.74 1376.49L986 1374.12L992.26 1371.76L998.52 1369.41L1004.78 1367.06L1011.04 1364.72L1017.3 1362.39L1023.56 1360.07L1029.82 1357.75L1036.08 1355.45L1042.34 1353.14L1048.6 1350.85L1054.86 1348.56L1061.12 1346.28L1067.38 1344.01L1073.64 1341.74L1079.9 1339.48L1086.16 1337.22L1092.42 1334.97L1098.68 1332.73L1104.94 1330.49L1111.2 1328.26L1117.46 1326.04L1123.72 1323.82L1129.98 1321.61L1136.24 1319.4L1142.5 1317.2L1148.76 1315.01L1155.02 1312.82L1161.28 1310.65L1167.54 1308.49L1173.8 1306.34L1180.06 1304.2L1186.32 1302.06L1192.58 1299.94L1198.84 1297.81L1205.1 1295.7L1211.36 1293.59L1217.62 1291.48L1223.88 1289.37L1230.14 1287.27L1236.4 1285.17L1242.66 1283.06L1248.92 1280.96L1255.18 1278.86L1261.44 1276.75L1267.7 1274.64L1273.96 1272.53L1280.22 1270.42L1286.48 1268.3L1292.74 1266.17L1299 1264.04L1305.26 1261.9L1311.52 1259.76L1317.78 1257.62L1324.04 1255.48L1330.3 1253.34L1336.56 1251.2L1342.82 1249.05L1349.08 1246.91L1355.34 1244.77L1361.6 1242.62L1367.86 1240.47L1374.12 1238.33L1380.38 1236.18L1386.64 1234.03L1392.9 1231.88L1399.16 1229.73L1405.42 1227.58L1411.68 1225.43L1417.94 1223.27L1424.2 1221.12L1430.46 1218.96L1436.72 1216.81L1442.98 1214.65L1449.24 1212.49L1455.5 1210.34L1463.5 1207.58" stroke="#000000" stroke-width="14" stroke-linejoin="round"/>
<path d="M1455.9 1210.34H1461.1A5.6 7 0 0 1 1455.9 1217.32Z" fill="#000000"/>
<path clip-path="url(#clipb)" d="M281.75 1624.9L288.03 1624L294.3 1623.04L300.58 1622.04L306.86 1620.97L313.13 1619.86L319.41 1618.67L325.69 1617.4L331.96 1616.06L338.24 1614.68L344.52 1613.28L350.79 1611.87L357.07 1610.47L363.35 1609.09L369.62 1607.73L375.9 1606.37L382.18 1604.99L388.45 1603.58L394.73 1602.12L401.01 1600.61L407.28 1599.07L413.56 1597.51L419.84 1595.93L426.11 1594.32L432.39 1592.7L438.67 1591.05L444.95 1589.38L451.22 1587.7L457.5 1585.99L463.78 1584.26L470.05 1582.52L476.33 1580.75L482.61 1578.97L488.88 1577.17L495.16 1575.35L501.44 1573.52L507.71 1571.67L513.99 1569.8L520.27 1567.92L526.54 1566L532.82 1564.04L539.1 1562.05L545.37 1560.03L551.65 1557.98L557.93 1555.9L564.2 1553.81L570.48 1551.69L576.76 1549.55L583.03 1547.4L589.31 1545.24L595.59 1543.07L601.86 1540.88L608.14 1538.7L614.42 1536.51L620.69 1534.32L626.97 1532.14L633.25 1529.95L639.52 1527.78L645.8 1525.62L652.08 1523.47L658.35 1521.33L664.63 1519.22L670.91 1517.12L677.18 1515.04L683.46 1512.96L689.74 1510.89L696.01 1508.81L702.29 1506.73L708.57 1504.66L714.84 1502.58L721.12 1500.51L727.4 1498.45L733.68 1496.38L739.95 1494.32L746.23 1492.26L752.51 1490.2L758.78 1488.15L765.06 1486.1L771.34 1484.06L777.61 1482.02L783.89 1479.99L790.17 1477.96L796.44 1475.94L802.72 1473.93L809 1471.92L815.27 1469.92L821.55 1467.92L827.83 1465.94L834.1 1463.96L840.38 1462L846.66 1460.04L852.93 1458.1L859.21 1456.17L865.49 1454.24L871.76 1452.32L878.04 1450.41L884.32 1448.5L890.59 1446.6L896.87 1444.7L903.15 1442.81L909.42 1440.91L915.7 1439.02L921.98 1437.13L928.25 1435.24L934.53 1433.34L940.81 1431.44L947.08 1429.54L953.36 1427.64L959.64 1425.72L965.91 1423.81L972.19 1421.88L978.47 1419.95L984.74 1418.01L991.02 1416.06L997.3 1414.1L1003.57 1412.13L1009.85 1410.15L1016.13 1408.17L1022.41 1406.18L1028.68 1404.19L1034.96 1402.19L1041.24 1400.19L1047.51 1398.19L1053.79 1396.19L1060.07 1394.18L1066.34 1392.18L1072.62 1390.18L1078.9 1388.18L1085.17 1386.18L1091.45 1384.18L1097.73 1382.19L1104 1380.21L1110.28 1378.23L1116.56 1376.26L1122.83 1374.3L1129.11 1372.35L1135.39 1370.4L1141.66 1368.47L1147.94 1366.55L1154.22 1364.63L1160.49 1362.72L1166.77 1360.82L1173.05 1358.92L1179.32 1357.03L1185.6 1355.14L1191.88 1353.26L1198.15 1351.39L1204.43 1349.51L1210.71 1347.64L1216.98 1345.78L1223.26 1343.91L1229.54 1342.05L1235.81 1340.19L1242.09 1338.33L1248.37 1336.48L1254.64 1334.62L1260.92 1332.77L1267.2 1330.91L1273.47 1329.06L1279.75 1327.2L1286.03 1325.34L1292.3 1323.48L1298.58 1321.62L1304.86 1319.76L1311.14 1317.89L1317.41 1316.03L1323.69 1314.17L1329.97 1312.31L1336.24 1310.46L1342.52 1308.6L1348.8 1306.74L1355.07 1304.89L1361.35 1303.03L1367.63 1301.18L1373.9 1299.33L1380.18 1297.47L1386.46 1295.62L1392.73 1293.77L1399.01 1291.92L1405.29 1290.07L1411.56 1288.22L1417.84 1286.38L1424.12 1284.53L1430.39 1282.69L1436.67 1280.84L1442.95 1279L1449.22 1277.15L1455.5 1275.31" stroke="#000000" stroke-width="6.9" stroke-dasharray="5.9 6.97"/>
<path clip-path="url(#clipb)" d="M281.75 1624.9L288.03 1623.63L294.3 1622.28L300.58 1620.85L306.86 1619.35L313.13 1617.77L319.41 1616.09L325.69 1614.3L331.96 1612.41L338.24 1610.46L344.52 1608.47L350.79 1606.48L357.07 1604.5L363.35 1602.56L369.62 1600.63L375.9 1598.71L382.18 1596.75L388.45 1594.76L394.73 1592.7L401.01 1590.56L407.28 1588.37L413.56 1586.12L419.84 1583.82L426.11 1581.49L432.39 1579.12L438.67 1576.71L444.95 1574.28L451.22 1571.82L457.5 1569.34L463.78 1566.85L470.05 1564.35L476.33 1561.84L482.61 1559.34L488.88 1556.83L495.16 1554.33L501.44 1551.85L507.71 1549.38L513.99 1546.93L520.27 1544.51L526.54 1542.09L532.82 1539.67L539.1 1537.26L545.37 1534.84L551.65 1532.43L557.93 1530.03L564.2 1527.62L570.48 1525.21L576.76 1522.8L583.03 1520.39L589.31 1517.97L595.59 1515.55L601.86 1513.13L608.14 1510.71L614.42 1508.28L620.69 1505.85L626.97 1503.41L633.25 1500.96L639.52 1498.51L645.8 1496.05L652.08 1493.58L658.35 1491.1L664.63 1488.61L670.91 1486.12L677.18 1483.61L683.46 1481.08L689.74 1478.55L696.01 1476L702.29 1473.45L708.57 1470.88L714.84 1468.31L721.12 1465.72L727.4 1463.14L733.68 1460.54L739.95 1457.94L746.23 1455.34L752.51 1452.73L758.78 1450.12L765.06 1447.51L771.34 1444.9L777.61 1442.29L783.89 1439.68L790.17 1437.07L796.44 1434.47L802.72 1431.87L809 1429.27L815.27 1426.68L821.55 1424.1L827.83 1421.53L834.1 1418.96L840.38 1416.38L846.66 1413.81L852.93 1411.24L859.21 1408.66L865.49 1406.09L871.76 1403.51L878.04 1400.93L884.32 1398.36L890.59 1395.79L896.87 1393.22L903.15 1390.65L909.42 1388.08L915.7 1385.52L921.98 1382.96L928.25 1380.41L934.53 1377.86L940.81 1375.32L947.08 1372.78L953.36 1370.25L959.64 1367.72L965.91 1365.21L972.19 1362.7L978.47 1360.2L984.74 1357.7L991.02 1355.22L997.3 1352.74L1003.57 1350.26L1009.85 1347.79L1016.13 1345.32L1022.41 1342.86L1028.68 1340.41L1034.96 1337.95L1041.24 1335.51L1047.51 1333.06L1053.79 1330.63L1060.07 1328.2L1066.34 1325.77L1072.62 1323.35L1078.9 1320.93L1085.17 1318.52L1091.45 1316.12L1097.73 1313.72L1104 1311.33L1110.28 1308.94L1116.56 1306.56L1122.83 1304.19L1129.11 1301.82L1135.39 1299.46L1141.66 1297.11L1147.94 1294.76L1154.22 1292.42L1160.49 1290.08L1166.77 1287.76L1173.05 1285.43L1179.32 1283.12L1185.6 1280.81L1191.88 1278.51L1198.15 1276.21L1204.43 1273.92L1210.71 1271.63L1216.98 1269.35L1223.26 1267.07L1229.54 1264.8L1235.81 1262.53L1242.09 1260.27L1248.37 1258L1254.64 1255.75L1260.92 1253.49L1267.2 1251.24L1273.47 1248.99L1279.75 1246.75L1286.03 1244.5L1292.3 1242.26L1298.58 1240.02L1304.86 1237.78L1311.14 1235.55L1317.41 1233.32L1323.69 1231.09L1329.97 1228.87L1336.24 1226.64L1342.52 1224.43L1348.8 1222.21L1355.07 1220L1361.35 1217.79L1367.63 1215.59L1373.9 1213.39L1380.18 1211.19L1386.46 1209L1392.73 1206.81L1399.01 1204.62L1405.29 1202.44L1411.56 1200.26L1417.84 1198.08L1424.12 1195.91L1430.39 1193.74L1436.67 1191.57L1442.95 1189.41L1449.22 1187.25L1455.5 1185.1L1463.5 1182.35" stroke="#00cc00" stroke-width="11.2" stroke-linejoin="round"/>
<path d="M1455.9 1185.1H1459.98A4.48 5.6 0 0 1 1455.9 1190.68Z" fill="#00cc00"/>
<path clip-path="url(#clipb)" d="M281.75 1624.9L288.03 1623.48L294.3 1621.96L300.58 1620.34L306.86 1618.63L313.13 1616.82L319.41 1614.86L325.69 1612.73L331.96 1610.48L338.24 1608.15L344.52 1605.79L350.79 1603.47L357.07 1601.21L363.35 1599.08L369.62 1597.07L375.9 1595.13L382.18 1593.16L388.45 1591.12L394.73 1588.91L401.01 1586.49L407.28 1583.9L413.56 1581.17L419.84 1578.3L426.11 1575.31L432.39 1572.22L438.67 1569.03L444.95 1565.76L451.22 1562.43L457.5 1559.04L463.78 1555.62L470.05 1552.17L476.33 1548.7L482.61 1545.24L488.88 1541.8L495.16 1538.38L501.44 1535.01L507.71 1531.69L513.99 1528.44L520.27 1525.26L526.54 1522.09L532.82 1518.92L539.1 1515.75L545.37 1512.59L551.65 1509.42L557.93 1506.26L564.2 1503.11L570.48 1499.95L576.76 1496.8L583.03 1493.65L589.31 1490.5L595.59 1487.35L601.86 1484.21L608.14 1481.07L614.42 1477.93L620.69 1474.79L626.97 1471.66L633.25 1468.53L639.52 1465.4L645.8 1462.27L652.08 1459.15L658.35 1456.03L664.63 1452.92L670.91 1449.8L677.18 1446.69L683.46 1443.59L689.74 1440.49L696.01 1437.4L702.29 1434.32L708.57 1431.24L714.84 1428.16L721.12 1425.09L727.4 1422.02L733.68 1418.95L739.95 1415.88L746.23 1412.82L752.51 1409.76L758.78 1406.69L765.06 1403.63L771.34 1400.56L777.61 1397.49L783.89 1394.42L790.17 1391.35L796.44 1388.27L802.72 1385.19L809 1382.1L815.27 1379.01L821.55 1375.91L827.83 1372.8L834.1 1369.69L840.38 1366.57L846.66 1363.43L852.93 1360.3L859.21 1357.15L865.49 1354L871.76 1350.84L878.04 1347.69L884.32 1344.52L890.59 1341.36L896.87 1338.19L903.15 1335.03L909.42 1331.86L915.7 1328.69L921.98 1325.53L928.25 1322.37L934.53 1319.21L940.81 1316.06L947.08 1312.91L953.36 1309.77L959.64 1306.64L965.91 1303.51L972.19 1300.39L978.47 1297.29L984.74 1294.19L991.02 1291.1L997.3 1288.01L1003.57 1284.91L1009.85 1281.82L1016.13 1278.73L1022.41 1275.64L1028.68 1272.55L1034.96 1269.46L1041.24 1266.38L1047.51 1263.3L1053.79 1260.23L1060.07 1257.17L1066.34 1254.11L1072.62 1251.06L1078.9 1248.02L1085.17 1244.98L1091.45 1241.96L1097.73 1238.95L1104 1235.95L1110.28 1232.96L1116.56 1229.99L1122.83 1227.03L1129.11 1224.08L1135.39 1221.15L1141.66 1218.24L1147.94 1215.34L1154.22 1212.46L1160.49 1209.6L1166.77 1206.74L1173.05 1203.9L1179.32 1201.07L1185.6 1198.26L1191.88 1195.45L1198.15 1192.65L1204.43 1189.87L1210.71 1187.09L1216.98 1184.32L1223.26 1181.56L1229.54 1178.8L1235.81 1176.05L1242.09 1173.31L1248.37 1170.57L1254.64 1167.84L1260.92 1165.11L1267.2 1162.38L1273.47 1159.65L1279.75 1156.93L1286.03 1154.21L1292.3 1151.49L1298.58 1148.76L1304.86 1146.04L1311.14 1143.32L1317.41 1140.61L1323.69 1137.9L1329.97 1135.2L1336.24 1132.5L1342.52 1129.8L1348.8 1127.11L1355.07 1124.42L1361.35 1121.73L1367.63 1119.06L1373.9 1116.38L1380.18 1113.71L1386.46 1111.04L1392.73 1108.38L1399.01 1105.72L1405.29 1103.07L1411.56 1100.42L1417.84 1097.77L1424.12 1095.13L1430.39 1092.5L1436.67 1089.86L1442.95 1087.24L1449.22 1084.61L1455.5 1081.99" stroke="#00cc00" stroke-width="6.9" stroke-dasharray="5.9 6.97"/>
<path clip-path="url(#clipb)" d="M281.75 1624.9L288.03 1623.98L294.3 1623.01L300.58 1621.98L306.86 1620.9L313.13 1619.76L319.41 1618.55L325.69 1617.25L331.96 1615.89L338.24 1614.49L344.52 1613.05L350.79 1611.62L357.07 1610.19L363.35 1608.79L369.62 1607.4L375.9 1606.01L382.18 1604.6L388.45 1603.17L394.73 1601.68L401.01 1600.14L407.28 1598.57L413.56 1596.98L419.84 1595.36L426.11 1593.72L432.39 1592.06L438.67 1590.38L444.95 1588.67L451.22 1586.95L457.5 1585.2L463.78 1583.44L470.05 1581.66L476.33 1579.86L482.61 1578.04L488.88 1576.21L495.16 1574.36L501.44 1572.5L507.71 1570.63L513.99 1568.74L520.27 1566.83L526.54 1564.9L532.82 1562.93L539.1 1560.94L545.37 1558.92L551.65 1556.88L557.93 1554.81L564.2 1552.73L570.48 1550.62L576.76 1548.5L583.03 1546.37L589.31 1544.22L595.59 1542.06L601.86 1539.9L608.14 1537.73L614.42 1535.55L620.69 1533.37L626.97 1531.19L633.25 1529.01L639.52 1526.83L645.8 1524.66L652.08 1522.5L658.35 1520.34L664.63 1518.19L670.91 1516.06L677.18 1513.94L683.46 1511.81L689.74 1509.68L696.01 1507.54L702.29 1505.4L708.57 1503.25L714.84 1501.1L721.12 1498.95L727.4 1496.8L733.68 1494.65L739.95 1492.5L746.23 1490.35L752.51 1488.2L758.78 1486.06L765.06 1483.91L771.34 1481.77L777.61 1479.63L783.89 1477.5L790.17 1475.37L796.44 1473.25L802.72 1471.13L809 1469.02L815.27 1466.92L821.55 1464.83L827.83 1462.74L834.1 1460.67L840.38 1458.6L846.66 1456.54L852.93 1454.48L859.21 1452.44L865.49 1450.39L871.76 1448.35L878.04 1446.32L884.32 1444.29L890.59 1442.27L896.87 1440.25L903.15 1438.23L909.42 1436.22L915.7 1434.2L921.98 1432.19L928.25 1430.18L934.53 1428.18L940.81 1426.17L947.08 1424.16L953.36 1422.16L959.64 1420.15L965.91 1418.14L972.19 1416.14L978.47 1414.13L984.74 1412.11L991.02 1410.1L997.3 1408.09L1003.57 1406.08L1009.85 1404.07L1016.13 1402.06L1022.41 1400.06L1028.68 1398.05L1034.96 1396.05L1041.24 1394.05L1047.51 1392.04L1053.79 1390.04L1060.07 1388.04L1066.34 1386.04L1072.62 1384.04L1078.9 1382.04L1085.17 1380.04L1091.45 1378.04L1097.73 1376.04L1104 1374.04L1110.28 1372.04L1116.56 1370.04L1122.83 1368.04L1129.11 1366.04L1135.39 1364.04L1141.66 1362.04L1147.94 1360.03L1154.22 1358.01L1160.49 1355.99L1166.77 1353.96L1173.05 1351.92L1179.32 1349.87L1185.6 1347.83L1191.88 1345.78L1198.15 1343.73L1204.43 1341.68L1210.71 1339.64L1216.98 1337.59L1223.26 1335.55L1229.54 1333.52L1235.81 1331.5L1242.09 1329.48L1248.37 1327.48L1254.64 1325.48L1260.92 1323.5L1267.2 1321.53L1273.47 1319.58L1279.75 1317.65L1286.03 1315.73L1292.3 1313.83L1298.58 1311.95L1304.86 1310.09L1311.14 1308.24L1317.41 1306.4L1323.69 1304.56L1329.97 1302.74L1336.24 1300.92L1342.52 1299.12L1348.8 1297.32L1355.07 1295.54L1361.35 1293.76L1367.63 1291.99L1373.9 1290.24L1380.18 1288.49L1386.46 1286.75L1392.73 1285.02L1399.01 1283.31L1405.29 1281.6L1411.56 1279.91L1417.84 1278.22L1424.12 1276.55L1430.39 1274.88L1436.67 1273.23L1442.95 1271.58L1449.22 1269.95L1455.5 1268.33" stroke="#00cc00" stroke-width="6.9" stroke-dasharray="5.9 6.97"/>
<path clip-path="url(#clipb)" d="M281.75 1624.9L288.03 1623.91L294.3 1622.87L300.58 1621.76L306.86 1620.6L313.13 1619.37L319.41 1618.07L325.69 1616.68L331.96 1615.21L338.24 1613.7L344.52 1612.16L350.79 1610.61L357.07 1609.08L363.35 1607.57L369.62 1606.08L375.9 1604.59L382.18 1603.07L388.45 1601.53L394.73 1599.93L401.01 1598.27L407.28 1596.58L413.56 1594.85L419.84 1593.1L426.11 1591.32L432.39 1589.51L438.67 1587.68L444.95 1585.82L451.22 1583.95L457.5 1582.05L463.78 1580.14L470.05 1578.22L476.33 1576.28L482.61 1574.33L488.88 1572.37L495.16 1570.4L501.44 1568.43L507.71 1566.45L513.99 1564.47L520.27 1562.49L526.54 1560.5L532.82 1558.5L539.1 1556.48L545.37 1554.46L551.65 1552.42L557.93 1550.37L564.2 1548.32L570.48 1546.25L576.76 1544.17L583.03 1542.08L589.31 1539.98L595.59 1537.87L601.86 1535.76L608.14 1533.63L614.42 1531.49L620.69 1529.34L626.97 1527.18L633.25 1525.01L639.52 1522.83L645.8 1520.64L652.08 1518.45L658.35 1516.24L664.63 1514.02L670.91 1511.8L677.18 1509.56L683.46 1507.29L689.74 1504.99L696.01 1502.67L702.29 1500.32L708.57 1497.96L714.84 1495.57L721.12 1493.17L727.4 1490.76L733.68 1488.34L739.95 1485.91L746.23 1483.47L752.51 1481.03L758.78 1478.6L765.06 1476.16L771.34 1473.74L777.61 1471.32L783.89 1468.91L790.17 1466.51L796.44 1464.14L802.72 1461.78L809 1459.44L815.27 1457.13L821.55 1454.84L827.83 1452.58L834.1 1450.35L840.38 1448.15L846.66 1445.96L852.93 1443.78L859.21 1441.62L865.49 1439.48L871.76 1437.35L878.04 1435.23L884.32 1433.13L890.59 1431.03L896.87 1428.94L903.15 1426.85L909.42 1424.77L915.7 1422.7L921.98 1420.63L928.25 1418.56L934.53 1416.49L940.81 1414.42L947.08 1412.34L953.36 1410.27L959.64 1408.18L965.91 1406.1L972.19 1404L978.47 1401.9L984.74 1399.78L991.02 1397.66L997.3 1395.53L1003.57 1393.39L1009.85 1391.24L1016.13 1389.09L1022.41 1386.94L1028.68 1384.78L1034.96 1382.62L1041.24 1380.46L1047.51 1378.29L1053.79 1376.13L1060.07 1373.97L1066.34 1371.81L1072.62 1369.66L1078.9 1367.51L1085.17 1365.36L1091.45 1363.23L1097.73 1361.1L1104 1358.97L1110.28 1356.86L1116.56 1354.76L1122.83 1352.67L1129.11 1350.59L1135.39 1348.52L1141.66 1346.47L1147.94 1344.43L1154.22 1342.41L1160.49 1340.4L1166.77 1338.4L1173.05 1336.41L1179.32 1334.44L1185.6 1332.47L1191.88 1330.51L1198.15 1328.56L1204.43 1326.61L1210.71 1324.67L1216.98 1322.73L1223.26 1320.8L1229.54 1318.87L1235.81 1316.94L1242.09 1315L1248.37 1313.07L1254.64 1311.14L1260.92 1309.2L1267.2 1307.26L1273.47 1305.32L1279.75 1303.36L1286.03 1301.4L1292.3 1299.44L1298.58 1297.46L1304.86 1295.48L1311.14 1293.5L1317.41 1291.51L1323.69 1289.52L1329.97 1287.53L1336.24 1285.54L1342.52 1283.55L1348.8 1281.56L1355.07 1279.56L1361.35 1277.56L1367.63 1275.56L1373.9 1273.56L1380.18 1271.56L1386.46 1269.55L1392.73 1267.55L1399.01 1265.54L1405.29 1263.53L1411.56 1261.52L1417.84 1259.51L1424.12 1257.49L1430.39 1255.47L1436.67 1253.45L1442.95 1251.43L1449.22 1249.41L1455.5 1247.39L1463.5 1244.81" stroke="#ff8000" stroke-width="11.2" stroke-linejoin="round"/>
<path d="M1455.9 1247.39H1459.98A4.48 5.6 0 0 1 1455.9 1252.97Z" fill="#ff8000"/>
<path clip-path="url(#clipb)" d="M281.75 1624.9L288.03 1623.39L294.3 1621.8L300.58 1620.11L306.86 1618.33L313.13 1616.47L319.41 1614.47L325.69 1612.35L331.96 1610.11L338.24 1607.81L344.52 1605.46L350.79 1603.09L357.07 1600.75L363.35 1598.45L369.62 1596.17L375.9 1593.89L382.18 1591.59L388.45 1589.22L394.73 1586.79L401.01 1584.26L407.28 1581.66L413.56 1579L419.84 1576.29L426.11 1573.53L432.39 1570.72L438.67 1567.88L444.95 1565L451.22 1562.1L457.5 1559.17L463.78 1556.22L470.05 1553.27L476.33 1550.3L482.61 1547.33L488.88 1544.36L495.16 1541.4L501.44 1538.45L507.71 1535.52L513.99 1532.62L520.27 1529.73L526.54 1526.85L532.82 1523.96L539.1 1521.08L545.37 1518.19L551.65 1515.3L557.93 1512.4L564.2 1509.51L570.48 1506.61L576.76 1503.71L583.03 1500.81L589.31 1497.91L595.59 1495L601.86 1492.1L608.14 1489.19L614.42 1486.28L620.69 1483.36L626.97 1480.44L633.25 1477.52L639.52 1474.6L645.8 1471.68L652.08 1468.75L658.35 1465.82L664.63 1462.88L670.91 1459.95L677.18 1457.01L683.46 1454.06L689.74 1451.11L696.01 1448.15L702.29 1445.18L708.57 1442.21L714.84 1439.24L721.12 1436.27L727.4 1433.29L733.68 1430.3L739.95 1427.32L746.23 1424.34L752.51 1421.35L758.78 1418.37L765.06 1415.38L771.34 1412.39L777.61 1409.41L783.89 1406.43L790.17 1403.45L796.44 1400.47L802.72 1397.5L809 1394.53L815.27 1391.56L821.55 1388.6L827.83 1385.65L834.1 1382.7L840.38 1379.75L846.66 1376.8L852.93 1373.85L859.21 1370.9L865.49 1367.95L871.76 1365L878.04 1362.06L884.32 1359.11L890.59 1356.17L896.87 1353.23L903.15 1350.29L909.42 1347.36L915.7 1344.43L921.98 1341.5L928.25 1338.57L934.53 1335.65L940.81 1332.73L947.08 1329.81L953.36 1326.9L959.64 1323.99L965.91 1321.09L972.19 1318.19L978.47 1315.3L984.74 1312.41L991.02 1309.52L997.3 1306.64L1003.57 1303.76L1009.85 1300.88L1016.13 1298L1022.41 1295.13L1028.68 1292.26L1034.96 1289.39L1041.24 1286.52L1047.51 1283.66L1053.79 1280.8L1060.07 1277.95L1066.34 1275.1L1072.62 1272.25L1078.9 1269.41L1085.17 1266.58L1091.45 1263.75L1097.73 1260.92L1104 1258.1L1110.28 1255.29L1116.56 1252.48L1122.83 1249.68L1129.11 1246.88L1135.39 1244.1L1141.66 1241.32L1147.94 1238.54L1154.22 1235.77L1160.49 1233L1166.77 1230.24L1173.05 1227.48L1179.32 1224.73L1185.6 1221.98L1191.88 1219.23L1198.15 1216.49L1204.43 1213.76L1210.71 1211.03L1216.98 1208.31L1223.26 1205.59L1229.54 1202.88L1235.81 1200.17L1242.09 1197.47L1248.37 1194.78L1254.64 1192.09L1260.92 1189.41L1267.2 1186.73L1273.47 1184.06L1279.75 1181.4L1286.03 1178.75L1292.3 1176.1L1298.58 1173.46L1304.86 1170.83L1311.14 1168.2L1317.41 1165.57L1323.69 1162.96L1329.97 1160.35L1336.24 1157.74L1342.52 1155.14L1348.8 1152.55L1355.07 1149.96L1361.35 1147.38L1367.63 1144.81L1373.9 1142.24L1380.18 1139.67L1386.46 1137.11L1392.73 1134.56L1399.01 1132.02L1405.29 1129.48L1411.56 1126.94L1417.84 1124.42L1424.12 1121.9L1430.39 1119.38L1436.67 1116.87L1442.95 1114.37L1449.22 1111.87L1455.5 1109.38" stroke="#ff8000" stroke-width="6.9" stroke-dasharray="5.9 6.97"/>
<path clip-path="url(#clipb)" d="M281.75 1624.9L288.03 1624.15L294.3 1623.35L300.58 1622.5L306.86 1621.62L313.13 1620.68L319.41 1619.69L325.69 1618.62L331.96 1617.51L338.24 1616.35L344.52 1615.18L350.79 1614L357.07 1612.82L363.35 1611.68L369.62 1610.54L375.9 1609.4L382.18 1608.24L388.45 1607.06L394.73 1605.84L401.01 1604.58L407.28 1603.28L413.56 1601.96L419.84 1600.62L426.11 1599.25L432.39 1597.86L438.67 1596.45L444.95 1595.03L451.22 1593.59L457.5 1592.14L463.78 1590.68L470.05 1589.2L476.33 1587.72L482.61 1586.24L488.88 1584.74L495.16 1583.25L501.44 1581.76L507.71 1580.26L513.99 1578.78L520.27 1577.29L526.54 1575.8L532.82 1574.3L539.1 1572.79L545.37 1571.28L551.65 1569.77L557.93 1568.25L564.2 1566.72L570.48 1565.19L576.76 1563.65L583.03 1562.11L589.31 1560.56L595.59 1559.01L601.86 1557.45L608.14 1555.89L614.42 1554.32L620.69 1552.75L626.97 1551.18L633.25 1549.6L639.52 1548.02L645.8 1546.43L652.08 1544.84L658.35 1543.25L664.63 1541.65L670.91 1540.05L677.18 1538.45L683.46 1536.83L689.74 1535.19L696.01 1533.55L702.29 1531.89L708.57 1530.23L714.84 1528.56L721.12 1526.88L727.4 1525.19L733.68 1523.51L739.95 1521.82L746.23 1520.12L752.51 1518.43L758.78 1516.74L765.06 1515.05L771.34 1513.37L777.61 1511.69L783.89 1510.01L790.17 1508.35L796.44 1506.69L802.72 1505.05L809 1503.41L815.27 1501.79L821.55 1500.18L827.83 1498.59L834.1 1497.01L840.38 1495.45L846.66 1493.9L852.93 1492.36L859.21 1490.83L865.49 1489.31L871.76 1487.8L878.04 1486.3L884.32 1484.8L890.59 1483.31L896.87 1481.82L903.15 1480.33L909.42 1478.85L915.7 1477.37L921.98 1475.89L928.25 1474.41L934.53 1472.93L940.81 1471.44L947.08 1469.95L953.36 1468.46L959.64 1466.96L965.91 1465.45L972.19 1463.94L978.47 1462.42L984.74 1460.89L991.02 1459.34L997.3 1457.8L1003.57 1456.24L1009.85 1454.68L1016.13 1453.11L1022.41 1451.54L1028.68 1449.96L1034.96 1448.38L1041.24 1446.8L1047.51 1445.21L1053.79 1443.62L1060.07 1442.04L1066.34 1440.45L1072.62 1438.86L1078.9 1437.27L1085.17 1435.69L1091.45 1434.1L1097.73 1432.52L1104 1430.94L1110.28 1429.37L1116.56 1427.8L1122.83 1426.24L1129.11 1424.68L1135.39 1423.13L1141.66 1421.58L1147.94 1420.04L1154.22 1418.51L1160.49 1416.97L1166.77 1415.44L1173.05 1413.91L1179.32 1412.38L1185.6 1410.85L1191.88 1409.33L1198.15 1407.8L1204.43 1406.28L1210.71 1404.77L1216.98 1403.25L1223.26 1401.74L1229.54 1400.23L1235.81 1398.73L1242.09 1397.23L1248.37 1395.73L1254.64 1394.23L1260.92 1392.74L1267.2 1391.26L1273.47 1389.77L1279.75 1388.3L1286.03 1386.82L1292.3 1385.35L1298.58 1383.88L1304.86 1382.42L1311.14 1380.96L1317.41 1379.51L1323.69 1378.06L1329.97 1376.61L1336.24 1375.16L1342.52 1373.72L1348.8 1372.28L1355.07 1370.85L1361.35 1369.41L1367.63 1367.99L1373.9 1366.56L1380.18 1365.14L1386.46 1363.72L1392.73 1362.3L1399.01 1360.89L1405.29 1359.48L1411.56 1358.08L1417.84 1356.68L1424.12 1355.28L1430.39 1353.89L1436.67 1352.5L1442.95 1351.11L1449.22 1349.73L1455.5 1348.35" stroke="#ff8000" stroke-width="6.9" stroke-dasharray="5.9 6.97"/>
<path clip-path="url(#clipb)" d="M281.75 1624.9L288.03 1623.92L294.3 1622.88L300.58 1621.79L306.86 1620.63L313.13 1619.42L319.41 1618.13L325.69 1616.75L331.96 1615.3L338.24 1613.8L344.52 1612.27L350.79 1610.74L357.07 1609.22L363.35 1607.72L369.62 1606.25L375.9 1604.76L382.18 1603.26L388.45 1601.73L394.73 1600.15L401.01 1598.51L407.28 1596.83L413.56 1595.12L419.84 1593.38L426.11 1591.62L432.39 1589.83L438.67 1588.01L444.95 1586.18L451.22 1584.32L457.5 1582.45L463.78 1580.56L470.05 1578.65L476.33 1576.73L482.61 1574.79L488.88 1572.85L495.16 1570.9L501.44 1568.94L507.71 1566.98L513.99 1565.01L520.27 1563.03L526.54 1561.05L532.82 1559.05L539.1 1557.04L545.37 1555.01L551.65 1552.98L557.93 1550.93L564.2 1548.87L570.48 1546.79L576.76 1544.71L583.03 1542.62L589.31 1540.51L595.59 1538.4L601.86 1536.27L608.14 1534.14L614.42 1531.99L620.69 1529.84L626.97 1527.68L633.25 1525.51L639.52 1523.33L645.8 1521.14L652.08 1518.95L658.35 1516.75L664.63 1514.54L670.91 1512.33L677.18 1510.11L683.46 1507.86L689.74 1505.58L696.01 1503.28L702.29 1500.95L708.57 1498.61L714.84 1496.25L721.12 1493.88L727.4 1491.5L733.68 1489.11L739.95 1486.71L746.23 1484.31L752.51 1481.91L758.78 1479.5L765.06 1477.11L771.34 1474.72L777.61 1472.34L783.89 1469.97L790.17 1467.61L796.44 1465.27L802.72 1462.95L809 1460.65L815.27 1458.38L821.55 1456.13L827.83 1453.91L834.1 1451.72L840.38 1449.55L846.66 1447.39L852.93 1445.24L859.21 1443.11L865.49 1440.99L871.76 1438.89L878.04 1436.79L884.32 1434.71L890.59 1432.63L896.87 1430.57L903.15 1428.51L909.42 1426.46L915.7 1424.41L921.98 1422.38L928.25 1420.35L934.53 1418.32L940.81 1416.3L947.08 1414.28L953.36 1412.26L959.64 1410.24L965.91 1408.23L972.19 1406.21L978.47 1404.2L984.74 1402.18L991.02 1400.16L997.3 1398.15L1003.57 1396.13L1009.85 1394.12L1016.13 1392.11L1022.41 1390.1L1028.68 1388.09L1034.96 1386.09L1041.24 1384.09L1047.51 1382.1L1053.79 1380.11L1060.07 1378.12L1066.34 1376.14L1072.62 1374.16L1078.9 1372.19L1085.17 1370.23L1091.45 1368.27L1097.73 1366.32L1104 1364.38L1110.28 1362.44L1116.56 1360.52L1122.83 1358.6L1129.11 1356.69L1135.39 1354.79L1141.66 1352.89L1147.94 1351.01L1154.22 1349.13L1160.49 1347.25L1166.77 1345.39L1173.05 1343.52L1179.32 1341.67L1185.6 1339.82L1191.88 1337.97L1198.15 1336.13L1204.43 1334.3L1210.71 1332.47L1216.98 1330.65L1223.26 1328.84L1229.54 1327.03L1235.81 1325.23L1242.09 1323.44L1248.37 1321.66L1254.64 1319.88L1260.92 1318.11L1267.2 1316.34L1273.47 1314.59L1279.75 1312.84L1286.03 1311.1L1292.3 1309.37L1298.58 1307.65L1304.86 1305.93L1311.14 1304.22L1317.41 1302.52L1323.69 1300.82L1329.97 1299.13L1336.24 1297.45L1342.52 1295.77L1348.8 1294.1L1355.07 1292.43L1361.35 1290.77L1367.63 1289.12L1373.9 1287.48L1380.18 1285.84L1386.46 1284.21L1392.73 1282.58L1399.01 1280.97L1405.29 1279.36L1411.56 1277.75L1417.84 1276.15L1424.12 1274.56L1430.39 1272.98L1436.67 1271.41L1442.95 1269.84L1449.22 1268.28L1455.5 1266.72L1463.5 1264.74" stroke="#ff0000" stroke-width="11.2" stroke-linejoin="round"/>
<path d="M1455.9 1266.72H1459.98A4.48 5.6 0 0 1 1455.9 1272.31Z" fill="#ff0000"/>
<path clip-path="url(#clipb)" d="M281.75 1624.9L288.03 1623.65L294.3 1622.33L300.58 1620.93L306.86 1619.46L313.13 1617.92L319.41 1616.27L325.69 1614.51L331.96 1612.66L338.24 1610.75L344.52 1608.81L350.79 1606.85L357.07 1604.91L363.35 1603.01L369.62 1601.13L375.9 1599.24L382.18 1597.33L388.45 1595.37L394.73 1593.36L401.01 1591.26L407.28 1589.12L413.56 1586.94L419.84 1584.72L426.11 1582.47L432.39 1580.18L438.67 1577.86L444.95 1575.51L451.22 1573.14L457.5 1570.74L463.78 1568.32L470.05 1565.89L476.33 1563.44L482.61 1560.98L488.88 1558.5L495.16 1556.02L501.44 1553.54L507.71 1551.05L513.99 1548.57L520.27 1546.08L526.54 1543.57L532.82 1541.04L539.1 1538.49L545.37 1535.92L551.65 1533.34L557.93 1530.74L564.2 1528.13L570.48 1525.5L576.76 1522.87L583.03 1520.22L589.31 1517.57L595.59 1514.91L601.86 1512.24L608.14 1509.57L614.42 1506.89L620.69 1504.22L626.97 1501.54L633.25 1498.87L639.52 1496.2L645.8 1493.53L652.08 1490.87L658.35 1488.22L664.63 1485.57L670.91 1482.93L677.18 1480.31L683.46 1477.67L689.74 1475.03L696.01 1472.39L702.29 1469.75L708.57 1467.1L714.84 1464.45L721.12 1461.81L727.4 1459.16L733.68 1456.51L739.95 1453.86L746.23 1451.21L752.51 1448.57L758.78 1445.92L765.06 1443.29L771.34 1440.65L777.61 1438.02L783.89 1435.4L790.17 1432.78L796.44 1430.17L802.72 1427.56L809 1424.96L815.27 1422.38L821.55 1419.8L827.83 1417.23L834.1 1414.67L840.38 1412.11L846.66 1409.56L852.93 1407.01L859.21 1404.47L865.49 1401.93L871.76 1399.39L878.04 1396.86L884.32 1394.34L890.59 1391.82L896.87 1389.3L903.15 1386.8L909.42 1384.29L915.7 1381.79L921.98 1379.3L928.25 1376.82L934.53 1374.34L940.81 1371.86L947.08 1369.4L953.36 1366.94L959.64 1364.48L965.91 1362.04L972.19 1359.6L978.47 1357.16L984.74 1354.74L991.02 1352.32L997.3 1349.91L1003.57 1347.51L1009.85 1345.11L1016.13 1342.72L1022.41 1340.34L1028.68 1337.97L1034.96 1335.6L1041.24 1333.24L1047.51 1330.88L1053.79 1328.53L1060.07 1326.18L1066.34 1323.84L1072.62 1321.5L1078.9 1319.17L1085.17 1316.84L1091.45 1314.52L1097.73 1312.2L1104 1309.88L1110.28 1307.57L1116.56 1305.25L1122.83 1302.94L1129.11 1300.64L1135.39 1298.33L1141.66 1296.03L1147.94 1293.72L1154.22 1291.41L1160.49 1289.1L1166.77 1286.79L1173.05 1284.48L1179.32 1282.17L1185.6 1279.87L1191.88 1277.56L1198.15 1275.26L1204.43 1272.96L1210.71 1270.66L1216.98 1268.38L1223.26 1266.09L1229.54 1263.82L1235.81 1261.55L1242.09 1259.29L1248.37 1257.04L1254.64 1254.8L1260.92 1252.57L1267.2 1250.36L1273.47 1248.15L1279.75 1245.96L1286.03 1243.78L1292.3 1241.62L1298.58 1239.48L1304.86 1237.34L1311.14 1235.22L1317.41 1233.1L1323.69 1231L1329.97 1228.9L1336.24 1226.81L1342.52 1224.73L1348.8 1222.66L1355.07 1220.59L1361.35 1218.54L1367.63 1216.49L1373.9 1214.46L1380.18 1212.43L1386.46 1210.42L1392.73 1208.41L1399.01 1206.41L1405.29 1204.42L1411.56 1202.44L1417.84 1200.47L1424.12 1198.51L1430.39 1196.56L1436.67 1194.62L1442.95 1192.69L1449.22 1190.77L1455.5 1188.86" stroke="#ff0000" stroke-width="6.9" stroke-dasharray="5.9 6.97"/>
<path clip-path="url(#clipb)" d="M281.75 1624.9L288.03 1624.06L294.3 1623.17L300.58 1622.23L306.86 1621.24L313.13 1620.2L319.41 1619.09L325.69 1617.9L331.96 1616.66L338.24 1615.37L344.52 1614.06L350.79 1612.74L357.07 1611.44L363.35 1610.16L369.62 1608.89L375.9 1607.62L382.18 1606.33L388.45 1605.01L394.73 1603.65L401.01 1602.24L407.28 1600.81L413.56 1599.35L419.84 1597.86L426.11 1596.36L432.39 1594.83L438.67 1593.29L444.95 1591.72L451.22 1590.14L457.5 1588.54L463.78 1586.92L470.05 1585.29L476.33 1583.64L482.61 1581.98L488.88 1580.31L495.16 1578.62L501.44 1576.93L507.71 1575.22L513.99 1573.5L520.27 1571.77L526.54 1570.02L532.82 1568.24L539.1 1566.43L545.37 1564.61L551.65 1562.76L557.93 1560.9L564.2 1559.01L570.48 1557.12L576.76 1555.21L583.03 1553.29L589.31 1551.36L595.59 1549.42L601.86 1547.48L608.14 1545.53L614.42 1543.58L620.69 1541.62L626.97 1539.67L633.25 1537.72L639.52 1535.78L645.8 1533.84L652.08 1531.91L658.35 1529.99L664.63 1528.08L670.91 1526.18L677.18 1524.3L683.46 1522.4L689.74 1520.5L696.01 1518.59L702.29 1516.67L708.57 1514.75L714.84 1512.83L721.12 1510.9L727.4 1508.98L733.68 1507.06L739.95 1505.14L746.23 1503.22L752.51 1501.31L758.78 1499.4L765.06 1497.51L771.34 1495.62L777.61 1493.75L783.89 1491.88L790.17 1490.03L796.44 1488.2L802.72 1486.38L809 1484.58L815.27 1482.8L821.55 1481.04L827.83 1479.3L834.1 1477.58L840.38 1475.88L846.66 1474.2L852.93 1472.53L859.21 1470.88L865.49 1469.24L871.76 1467.61L878.04 1466L884.32 1464.4L890.59 1462.81L896.87 1461.22L903.15 1459.65L909.42 1458.08L915.7 1456.52L921.98 1454.96L928.25 1453.41L934.53 1451.85L940.81 1450.3L947.08 1448.75L953.36 1447.2L959.64 1445.65L965.91 1444.1L972.19 1442.54L978.47 1440.98L984.74 1439.41L991.02 1437.84L997.3 1436.26L1003.57 1434.68L1009.85 1433.1L1016.13 1431.52L1022.41 1429.94L1028.68 1428.35L1034.96 1426.77L1041.24 1425.19L1047.51 1423.61L1053.79 1422.03L1060.07 1420.46L1066.34 1418.89L1072.62 1417.33L1078.9 1415.77L1085.17 1414.22L1091.45 1412.67L1097.73 1411.13L1104 1409.6L1110.28 1408.08L1116.56 1406.57L1122.83 1405.07L1129.11 1403.58L1135.39 1402.1L1141.66 1400.63L1147.94 1399.18L1154.22 1397.74L1160.49 1396.32L1166.77 1394.91L1173.05 1393.51L1179.32 1392.12L1185.6 1390.75L1191.88 1389.38L1198.15 1388.02L1204.43 1386.66L1210.71 1385.31L1216.98 1383.97L1223.26 1382.62L1229.54 1381.28L1235.81 1379.93L1242.09 1378.58L1248.37 1377.23L1254.64 1375.88L1260.92 1374.52L1267.2 1373.15L1273.47 1371.77L1279.75 1370.39L1286.03 1368.99L1292.3 1367.58L1298.58 1366.16L1304.86 1364.73L1311.14 1363.29L1317.41 1361.85L1323.69 1360.4L1329.97 1358.95L1336.24 1357.5L1342.52 1356.04L1348.8 1354.58L1355.07 1353.11L1361.35 1351.63L1367.63 1350.16L1373.9 1348.67L1380.18 1347.19L1386.46 1345.7L1392.73 1344.2L1399.01 1342.7L1405.29 1341.2L1411.56 1339.69L1417.84 1338.18L1424.12 1336.66L1430.39 1335.14L1436.67 1333.61L1442.95 1332.08L1449.22 1330.55L1455.5 1329.01" stroke="#ff0000" stroke-width="6.9" stroke-dasharray="5.9 6.97"/>
<path clip-path="url(#clipb)" d="M281.75 1624.9L288.03 1623.29L294.3 1621.56L300.58 1619.73L306.86 1617.79L313.13 1615.74L319.41 1613.52L325.69 1611.1L331.96 1608.54L338.24 1605.9L344.52 1603.24L350.79 1600.62L357.07 1598.1L363.35 1595.73L369.62 1593.48L375.9 1591.3L382.18 1589.13L388.45 1586.92L394.73 1584.63L401.01 1582.21L407.28 1579.74L413.56 1577.22L419.84 1574.65L426.11 1572.04L432.39 1569.39L438.67 1566.71L444.95 1563.99L451.22 1561.25L457.5 1558.49L463.78 1555.7L470.05 1552.9L476.33 1550.08L482.61 1547.26L488.88 1544.43L495.16 1541.6L501.44 1538.77L507.71 1535.94L513.99 1533.12L520.27 1530.31L526.54 1527.48L532.82 1524.64L539.1 1521.78L545.37 1518.9L551.65 1516.01L557.93 1513.11L564.2 1510.2L570.48 1507.28L576.76 1504.35L583.03 1501.42L589.31 1498.48L595.59 1495.54L601.86 1492.59L608.14 1489.65L614.42 1486.7L620.69 1483.76L626.97 1480.82L633.25 1477.89L639.52 1474.96L645.8 1472.04L652.08 1469.13L658.35 1466.22L664.63 1463.34L670.91 1460.46L677.18 1457.6L683.46 1454.73L689.74 1451.87L696.01 1449.02L702.29 1446.16L708.57 1443.31L714.84 1440.46L721.12 1437.61L727.4 1434.77L733.68 1431.92L739.95 1429.09L746.23 1426.26L752.51 1423.43L758.78 1420.6L765.06 1417.78L771.34 1414.97L777.61 1412.16L783.89 1409.35L790.17 1406.56L796.44 1403.76L802.72 1400.98L809 1398.19L815.27 1395.42L821.55 1392.65L827.83 1389.89L834.1 1387.14L840.38 1384.39L846.66 1381.64L852.93 1378.9L859.21 1376.17L865.49 1373.44L871.76 1370.72L878.04 1368L884.32 1365.28L890.59 1362.57L896.87 1359.87L903.15 1357.17L909.42 1354.47L915.7 1351.78L921.98 1349.1L928.25 1346.42L934.53 1343.75L940.81 1341.08L947.08 1338.42L953.36 1335.76L959.64 1333.11L965.91 1330.46L972.19 1327.82L978.47 1325.19L984.74 1322.56L991.02 1319.93L997.3 1317.32L1003.57 1314.72L1009.85 1312.12L1016.13 1309.53L1022.41 1306.95L1028.68 1304.38L1034.96 1301.81L1041.24 1299.25L1047.51 1296.69L1053.79 1294.13L1060.07 1291.58L1066.34 1289.04L1072.62 1286.49L1078.9 1283.95L1085.17 1281.4L1091.45 1278.86L1097.73 1276.32L1104 1273.78L1110.28 1271.23L1116.56 1268.69L1122.83 1266.14L1129.11 1263.59L1135.39 1261.03L1141.66 1258.47L1147.94 1255.91L1154.22 1253.33L1160.49 1250.76L1166.77 1248.18L1173.05 1245.6L1179.32 1243.01L1185.6 1240.42L1191.88 1237.84L1198.15 1235.25L1204.43 1232.66L1210.71 1230.07L1216.98 1227.49L1223.26 1224.9L1229.54 1222.32L1235.81 1219.75L1242.09 1217.18L1248.37 1214.61L1254.64 1212.06L1260.92 1209.5L1267.2 1206.96L1273.47 1204.43L1279.75 1201.9L1286.03 1199.39L1292.3 1196.88L1298.58 1194.39L1304.86 1191.91L1311.14 1189.43L1317.41 1186.96L1323.69 1184.49L1329.97 1182.03L1336.24 1179.58L1342.52 1177.13L1348.8 1174.69L1355.07 1172.25L1361.35 1169.82L1367.63 1167.4L1373.9 1164.98L1380.18 1162.57L1386.46 1160.16L1392.73 1157.76L1399.01 1155.36L1405.29 1152.97L1411.56 1150.59L1417.84 1148.21L1424.12 1145.84L1430.39 1143.48L1436.67 1141.12L1442.95 1138.77L1449.22 1136.42L1455.5 1134.08" stroke="#000000" stroke-width="6.9" stroke-dasharray="5.9 6.97"/>
<path clip-path="url(#clipb)" d="M281.75 1624.9L288.03 1623.87L294.3 1622.78L300.58 1621.62L306.86 1620.41L313.13 1619.13L319.41 1617.77L325.69 1616.32L331.96 1614.79L338.24 1613.21L344.52 1611.6L350.79 1609.99L357.07 1608.38L363.35 1606.81L369.62 1605.25L375.9 1603.69L382.18 1602.12L388.45 1600.5L394.73 1598.83L401.01 1597.1L407.28 1595.33L413.56 1593.52L419.84 1591.68L426.11 1589.81L432.39 1587.91L438.67 1585.99L444.95 1584.04L451.22 1582.07L457.5 1580.08L463.78 1578.08L470.05 1576.06L476.33 1574.04L482.61 1572L488.88 1569.96L495.16 1567.92L501.44 1565.88L507.71 1563.84L513.99 1561.81L520.27 1559.78L526.54 1557.74L532.82 1555.7L539.1 1553.65L545.37 1551.59L551.65 1549.52L557.93 1547.45L564.2 1545.36L570.48 1543.28L576.76 1541.18L583.03 1539.08L589.31 1536.97L595.59 1534.86L601.86 1532.74L608.14 1530.61L614.42 1528.48L620.69 1526.35L626.97 1524.21L633.25 1522.06L639.52 1519.91L645.8 1517.75L652.08 1515.6L658.35 1513.43L664.63 1511.27L670.91 1509.1L677.18 1506.92L683.46 1504.74L689.74 1502.54L696.01 1500.35L702.29 1498.14L708.57 1495.92L714.84 1493.7L721.12 1491.48L727.4 1489.25L733.68 1487.01L739.95 1484.77L746.23 1482.52L752.51 1480.27L758.78 1478.02L765.06 1475.76L771.34 1473.5L777.61 1471.24L783.89 1468.98L790.17 1466.71L796.44 1464.45L802.72 1462.18L809 1459.92L815.27 1457.65L821.55 1455.39L827.83 1453.13L834.1 1450.86L840.38 1448.6L846.66 1446.32L852.93 1444.05L859.21 1441.77L865.49 1439.49L871.76 1437.2L878.04 1434.91L884.32 1432.62L890.59 1430.33L896.87 1428.04L903.15 1425.74L909.42 1423.45L915.7 1421.16L921.98 1418.86L928.25 1416.57L934.53 1414.28L940.81 1411.99L947.08 1409.7L953.36 1407.42L959.64 1405.14L965.91 1402.86L972.19 1400.59L978.47 1398.32L984.74 1396.05L991.02 1393.79L997.3 1391.53L1003.57 1389.27L1009.85 1387.01L1016.13 1384.75L1022.41 1382.49L1028.68 1380.23L1034.96 1377.98L1041.24 1375.72L1047.51 1373.47L1053.79 1371.22L1060.07 1368.97L1066.34 1366.73L1072.62 1364.48L1078.9 1362.24L1085.17 1360L1091.45 1357.77L1097.73 1355.54L1104 1353.31L1110.28 1351.09L1116.56 1348.87L1122.83 1346.66L1129.11 1344.45L1135.39 1342.25L1141.66 1340.05L1147.94 1337.85L1154.22 1335.66L1160.49 1333.46L1166.77 1331.27L1173.05 1329.09L1179.32 1326.9L1185.6 1324.72L1191.88 1322.54L1198.15 1320.37L1204.43 1318.19L1210.71 1316.02L1216.98 1313.86L1223.26 1311.7L1229.54 1309.54L1235.81 1307.39L1242.09 1305.25L1248.37 1303.11L1254.64 1300.97L1260.92 1298.84L1267.2 1296.72L1273.47 1294.6L1279.75 1292.49L1286.03 1290.38L1292.3 1288.28L1298.58 1286.19L1304.86 1284.11L1311.14 1282.03L1317.41 1279.95L1323.69 1277.88L1329.97 1275.82L1336.24 1273.76L1342.52 1271.7L1348.8 1269.65L1355.07 1267.6L1361.35 1265.56L1367.63 1263.53L1373.9 1261.5L1380.18 1259.47L1386.46 1257.45L1392.73 1255.44L1399.01 1253.43L1405.29 1251.42L1411.56 1249.42L1417.84 1247.43L1424.12 1245.44L1430.39 1243.46L1436.67 1241.48L1442.95 1239.51L1449.22 1237.54L1455.5 1235.58L1463.5 1233.07" stroke="#0000ff" stroke-width="11.2" stroke-linejoin="round"/>
<path d="M1455.9 1235.58H1459.98A4.48 5.6 0 0 1 1455.9 1241.16Z" fill="#0000ff"/>
<path clip-path="url(#clipb)" d="M281.75 1624.9L288.03 1623.61L294.3 1622.24L300.58 1620.8L306.86 1619.27L313.13 1617.68L319.41 1615.97L325.69 1614.15L331.96 1612.24L338.24 1610.26L344.52 1608.25L350.79 1606.23L357.07 1604.22L363.35 1602.25L369.62 1600.3L375.9 1598.35L382.18 1596.37L388.45 1594.35L394.73 1592.26L401.01 1590.1L407.28 1587.89L413.56 1585.63L419.84 1583.35L426.11 1581.02L432.39 1578.66L438.67 1576.27L444.95 1573.86L451.22 1571.41L457.5 1568.94L463.78 1566.45L470.05 1563.93L476.33 1561.4L482.61 1558.85L488.88 1556.29L495.16 1553.71L501.44 1551.12L507.71 1548.53L513.99 1545.93L520.27 1543.32L526.54 1540.69L532.82 1538.03L539.1 1535.35L545.37 1532.64L551.65 1529.92L557.93 1527.17L564.2 1524.41L570.48 1521.63L576.76 1518.84L583.03 1516.03L589.31 1513.21L595.59 1510.38L601.86 1507.54L608.14 1504.69L614.42 1501.83L620.69 1498.97L626.97 1496.1L633.25 1493.23L639.52 1490.36L645.8 1487.49L652.08 1484.62L658.35 1481.75L664.63 1478.89L670.91 1476.03L677.18 1473.17L683.46 1470.31L689.74 1467.45L696.01 1464.57L702.29 1461.69L708.57 1458.81L714.84 1455.92L721.12 1453.02L727.4 1450.12L733.68 1447.22L739.95 1444.31L746.23 1441.4L752.51 1438.48L758.78 1435.57L765.06 1432.65L771.34 1429.72L777.61 1426.8L783.89 1423.87L790.17 1420.94L796.44 1418.01L802.72 1415.08L809 1412.15L815.27 1409.22L821.55 1406.29L827.83 1403.36L834.1 1400.43L840.38 1397.5L846.66 1394.55L852.93 1391.6L859.21 1388.65L865.49 1385.69L871.76 1382.73L878.04 1379.77L884.32 1376.81L890.59 1373.84L896.87 1370.87L903.15 1367.9L909.42 1364.94L915.7 1361.97L921.98 1359.01L928.25 1356.05L934.53 1353.09L940.81 1350.13L947.08 1347.18L953.36 1344.23L959.64 1341.29L965.91 1338.36L972.19 1335.43L978.47 1332.51L984.74 1329.59L991.02 1326.69L997.3 1323.78L1003.57 1320.88L1009.85 1317.97L1016.13 1315.07L1022.41 1312.17L1028.68 1309.28L1034.96 1306.38L1041.24 1303.49L1047.51 1300.61L1053.79 1297.72L1060.07 1294.85L1066.34 1291.97L1072.62 1289.1L1078.9 1286.24L1085.17 1283.38L1091.45 1280.53L1097.73 1277.68L1104 1274.84L1110.28 1272.01L1116.56 1269.18L1122.83 1266.37L1129.11 1263.56L1135.39 1260.76L1141.66 1257.96L1147.94 1255.18L1154.22 1252.39L1160.49 1249.61L1166.77 1246.83L1173.05 1244.06L1179.32 1241.29L1185.6 1238.52L1191.88 1235.76L1198.15 1233.01L1204.43 1230.26L1210.71 1227.52L1216.98 1224.78L1223.26 1222.06L1229.54 1219.34L1235.81 1216.63L1242.09 1213.93L1248.37 1211.23L1254.64 1208.55L1260.92 1205.88L1267.2 1203.22L1273.47 1200.57L1279.75 1197.94L1286.03 1195.31L1292.3 1192.7L1298.58 1190.1L1304.86 1187.52L1311.14 1184.94L1317.41 1182.37L1323.69 1179.81L1329.97 1177.26L1336.24 1174.72L1342.52 1172.18L1348.8 1169.66L1355.07 1167.14L1361.35 1164.64L1367.63 1162.14L1373.9 1159.65L1380.18 1157.18L1386.46 1154.71L1392.73 1152.25L1399.01 1149.8L1405.29 1147.36L1411.56 1144.92L1417.84 1142.5L1424.12 1140.09L1430.39 1137.69L1436.67 1135.29L1442.95 1132.91L1449.22 1130.54L1455.5 1128.17" stroke="#0000ff" stroke-width="6.9" stroke-dasharray="5.9 6.97"/>
<path clip-path="url(#clipb)" d="M281.75 1624.9L288.03 1624.1L294.3 1623.26L300.58 1622.37L306.86 1621.43L313.13 1620.44L319.41 1619.39L325.69 1618.26L331.96 1617.08L338.24 1615.86L344.52 1614.62L350.79 1613.37L357.07 1612.13L363.35 1610.92L369.62 1609.71L375.9 1608.51L382.18 1607.29L388.45 1606.04L394.73 1604.75L401.01 1603.41L407.28 1602.04L413.56 1600.65L419.84 1599.23L426.11 1597.78L432.39 1596.32L438.67 1594.83L444.95 1593.33L451.22 1591.81L457.5 1590.28L463.78 1588.73L470.05 1587.17L476.33 1585.61L482.61 1584.04L488.88 1582.46L495.16 1580.88L501.44 1579.29L507.71 1577.71L513.99 1576.13L520.27 1574.55L526.54 1572.96L532.82 1571.37L539.1 1569.76L545.37 1568.15L551.65 1566.54L557.93 1564.92L564.2 1563.29L570.48 1561.65L576.76 1560.01L583.03 1558.36L589.31 1556.7L595.59 1555.04L601.86 1553.38L608.14 1551.7L614.42 1550.03L620.69 1548.34L626.97 1546.66L633.25 1544.97L639.52 1543.27L645.8 1541.57L652.08 1539.86L658.35 1538.15L664.63 1536.44L670.91 1534.72L677.18 1533L683.46 1531.26L689.74 1529.51L696.01 1527.75L702.29 1525.97L708.57 1524.19L714.84 1522.4L721.12 1520.6L727.4 1518.79L733.68 1516.98L739.95 1515.17L746.23 1513.35L752.51 1511.53L758.78 1509.72L765.06 1507.9L771.34 1506.08L777.61 1504.27L783.89 1502.46L790.17 1500.66L796.44 1498.87L802.72 1497.08L809 1495.3L815.27 1493.54L821.55 1491.78L827.83 1490.04L834.1 1488.31L840.38 1486.59L846.66 1484.88L852.93 1483.18L859.21 1481.49L865.49 1479.81L871.76 1478.13L878.04 1476.46L884.32 1474.8L890.59 1473.13L896.87 1471.47L903.15 1469.82L909.42 1468.16L915.7 1466.5L921.98 1464.85L928.25 1463.19L934.53 1461.53L940.81 1459.86L947.08 1458.19L953.36 1456.52L959.64 1454.84L965.91 1453.15L972.19 1451.45L978.47 1449.75L984.74 1448.03L991.02 1446.31L997.3 1444.57L1003.57 1442.83L1009.85 1441.08L1016.13 1439.32L1022.41 1437.55L1028.68 1435.78L1034.96 1434L1041.24 1432.22L1047.51 1430.44L1053.79 1428.65L1060.07 1426.87L1066.34 1425.08L1072.62 1423.29L1078.9 1421.5L1085.17 1419.72L1091.45 1417.94L1097.73 1416.16L1104 1414.38L1110.28 1412.62L1116.56 1410.85L1122.83 1409.1L1129.11 1407.35L1135.39 1405.61L1141.66 1403.89L1147.94 1402.16L1154.22 1400.45L1160.49 1398.73L1166.77 1397.02L1173.05 1395.31L1179.32 1393.6L1185.6 1391.89L1191.88 1390.19L1198.15 1388.49L1204.43 1386.8L1210.71 1385.11L1216.98 1383.42L1223.26 1381.74L1229.54 1380.06L1235.81 1378.38L1242.09 1376.71L1248.37 1375.04L1254.64 1373.38L1260.92 1371.72L1267.2 1370.07L1273.47 1368.42L1279.75 1366.78L1286.03 1365.14L1292.3 1363.51L1298.58 1361.88L1304.86 1360.26L1311.14 1358.64L1317.41 1357.02L1323.69 1355.41L1329.97 1353.81L1336.24 1352.2L1342.52 1350.61L1348.8 1349.01L1355.07 1347.42L1361.35 1345.84L1367.63 1344.26L1373.9 1342.68L1380.18 1341.11L1386.46 1339.54L1392.73 1337.97L1399.01 1336.41L1405.29 1334.86L1411.56 1333.31L1417.84 1331.76L1424.12 1330.22L1430.39 1328.68L1436.67 1327.14L1442.95 1325.61L1449.22 1324.09L1455.5 1322.57" stroke="#0000ff" stroke-width="6.9" stroke-dasharray="5.9 6.97"/>
<path clip-path="url(#clipb)" d="M281.75 1624.9L288.03 1623.75L294.3 1622.52L300.58 1621.23L306.86 1619.87L313.13 1618.44L319.41 1616.92L325.69 1615.3L331.96 1613.6L338.24 1611.85L344.52 1610.05L350.79 1608.23L357.07 1606.41L363.35 1604.6L369.62 1602.76L375.9 1600.89L382.18 1599L388.45 1597.09L394.73 1595.16L401.01 1593.23L407.28 1591.29L413.56 1589.35L419.84 1587.4L426.11 1585.45L432.39 1583.5L438.67 1581.53L444.95 1579.56L451.22 1577.58L457.5 1575.59L463.78 1573.59L470.05 1571.57L476.33 1569.54L482.61 1567.5L488.88 1565.44L495.16 1563.36L501.44 1561.27L507.71 1559.15L513.99 1557.02L520.27 1554.87L526.54 1552.69L532.82 1550.48L539.1 1548.25L545.37 1546L551.65 1543.73L557.93 1541.44L564.2 1539.13L570.48 1536.81L576.76 1534.47L583.03 1532.12L589.31 1529.76L595.59 1527.4L601.86 1525.02L608.14 1522.64L614.42 1520.26L620.69 1517.88L626.97 1515.49L633.25 1513.11L639.52 1510.73L645.8 1508.36L652.08 1505.99L658.35 1503.63L664.63 1501.28L670.91 1498.94L677.18 1496.62L683.46 1494.3L689.74 1491.98L696.01 1489.67L702.29 1487.36L708.57 1485.06L714.84 1482.76L721.12 1480.45L727.4 1478.15L733.68 1475.85L739.95 1473.55L746.23 1471.24L752.51 1468.94L758.78 1466.63L765.06 1464.31L771.34 1461.99L777.61 1459.67L783.89 1457.34L790.17 1455L796.44 1452.66L802.72 1450.31L809 1447.95L815.27 1445.58L821.55 1443.2L827.83 1440.81L834.1 1438.41L840.38 1435.99L846.66 1433.55L852.93 1431.1L859.21 1428.64L865.49 1426.17L871.76 1423.69L878.04 1421.19L884.32 1418.7L890.59 1416.19L896.87 1413.68L903.15 1411.17L909.42 1408.66L915.7 1406.15L921.98 1403.64L928.25 1401.13L934.53 1398.62L940.81 1396.12L947.08 1393.63L953.36 1391.15L959.64 1388.67L965.91 1386.21L972.19 1383.76L978.47 1381.32L984.74 1378.9L991.02 1376.49L997.3 1374.09L1003.57 1371.69L1009.85 1369.3L1016.13 1366.91L1022.41 1364.53L1028.68 1362.15L1034.96 1359.78L1041.24 1357.42L1047.51 1355.05L1053.79 1352.7L1060.07 1350.35L1066.34 1348L1072.62 1345.66L1078.9 1343.32L1085.17 1340.99L1091.45 1338.66L1097.73 1336.34L1104 1334.02L1110.28 1331.7L1116.56 1329.39L1122.83 1327.09L1129.11 1324.78L1135.39 1322.48L1141.66 1320.19L1147.94 1317.9L1154.22 1315.61L1160.49 1313.32L1166.77 1311.03L1173.05 1308.74L1179.32 1306.46L1185.6 1304.18L1191.88 1301.9L1198.15 1299.62L1204.43 1297.36L1210.71 1295.09L1216.98 1292.83L1223.26 1290.58L1229.54 1288.33L1235.81 1286.09L1242.09 1283.86L1248.37 1281.64L1254.64 1279.42L1260.92 1277.21L1267.2 1275.02L1273.47 1272.83L1279.75 1270.65L1286.03 1268.48L1292.3 1266.32L1298.58 1264.18L1304.86 1262.04L1311.14 1259.91L1317.41 1257.79L1323.69 1255.68L1329.97 1253.57L1336.24 1251.47L1342.52 1249.38L1348.8 1247.3L1355.07 1245.22L1361.35 1243.15L1367.63 1241.09L1373.9 1239.03L1380.18 1236.98L1386.46 1234.94L1392.73 1232.91L1399.01 1230.89L1405.29 1228.87L1411.56 1226.86L1417.84 1224.86L1424.12 1222.87L1430.39 1220.88L1436.67 1218.9L1442.95 1216.94L1449.22 1214.97L1455.5 1213.02L1463.5 1210.53" stroke="#ff00ff" stroke-width="11.2" stroke-linejoin="round"/>
<path d="M1455.9 1213.02H1459.98A4.48 5.6 0 0 1 1455.9 1218.61Z" fill="#ff00ff"/>
<path clip-path="url(#clipb)" d="M281.75 1624.9L288.03 1623.44L294.3 1621.88L300.58 1620.25L306.86 1618.52L313.13 1616.71L319.41 1614.77L325.69 1612.71L331.96 1610.54L338.24 1608.3L344.52 1606.01L350.79 1603.72L357.07 1601.44L363.35 1599.21L369.62 1597L375.9 1594.79L382.18 1592.54L388.45 1590.25L394.73 1587.88L401.01 1585.42L407.28 1582.91L413.56 1580.35L419.84 1577.74L426.11 1575.09L432.39 1572.4L438.67 1569.67L444.95 1566.91L451.22 1564.13L457.5 1561.31L463.78 1558.47L470.05 1555.61L476.33 1552.74L482.61 1549.85L488.88 1546.95L495.16 1544.04L501.44 1541.13L507.71 1538.22L513.99 1535.31L520.27 1532.4L526.54 1529.48L532.82 1526.54L539.1 1523.58L545.37 1520.61L551.65 1517.62L557.93 1514.62L564.2 1511.6L570.48 1508.57L576.76 1505.53L583.03 1502.48L589.31 1499.42L595.59 1496.35L601.86 1493.27L608.14 1490.18L614.42 1487.08L620.69 1483.97L626.97 1480.86L633.25 1477.74L639.52 1474.62L645.8 1471.49L652.08 1468.36L658.35 1465.22L664.63 1462.08L670.91 1458.94L677.18 1455.8L683.46 1452.64L689.74 1449.48L696.01 1446.3L702.29 1443.12L708.57 1439.92L714.84 1436.72L721.12 1433.51L727.4 1430.29L733.68 1427.07L739.95 1423.84L746.23 1420.6L752.51 1417.36L758.78 1414.11L765.06 1410.86L771.34 1407.61L777.61 1404.35L783.89 1401.09L790.17 1397.82L796.44 1394.56L802.72 1391.29L809 1388.02L815.27 1384.75L821.55 1381.48L827.83 1378.21L834.1 1374.94L840.38 1371.66L846.66 1368.37L852.93 1365.07L859.21 1361.76L865.49 1358.44L871.76 1355.12L878.04 1351.79L884.32 1348.46L890.59 1345.12L896.87 1341.79L903.15 1338.45L909.42 1335.12L915.7 1331.78L921.98 1328.45L928.25 1325.13L934.53 1321.81L940.81 1318.49L947.08 1315.18L953.36 1311.89L959.64 1308.6L965.91 1305.32L972.19 1302.05L978.47 1298.8L984.74 1295.56L991.02 1292.33L997.3 1289.11L1003.57 1285.9L1009.85 1282.7L1016.13 1279.5L1022.41 1276.31L1028.68 1273.13L1034.96 1269.95L1041.24 1266.78L1047.51 1263.61L1053.79 1260.45L1060.07 1257.3L1066.34 1254.15L1072.62 1251L1078.9 1247.86L1085.17 1244.72L1091.45 1241.59L1097.73 1238.46L1104 1235.34L1110.28 1232.22L1116.56 1229.1L1122.83 1225.99L1129.11 1222.87L1135.39 1219.76L1141.66 1216.66L1147.94 1213.55L1154.22 1210.44L1160.49 1207.32L1166.77 1204.2L1173.05 1201.08L1179.32 1197.96L1185.6 1194.84L1191.88 1191.72L1198.15 1188.6L1204.43 1185.49L1210.71 1182.39L1216.98 1179.29L1223.26 1176.2L1229.54 1173.12L1235.81 1170.05L1242.09 1166.99L1248.37 1163.95L1254.64 1160.91L1260.92 1157.9L1267.2 1154.9L1273.47 1151.91L1279.75 1148.95L1286.03 1146.01L1292.3 1143.08L1298.58 1140.18L1304.86 1137.3L1311.14 1134.43L1317.41 1131.57L1323.69 1128.72L1329.97 1125.88L1336.24 1123.06L1342.52 1120.25L1348.8 1117.45L1355.07 1114.66L1361.35 1111.89L1367.63 1109.12L1373.9 1106.37L1380.18 1103.63L1386.46 1100.91L1392.73 1098.2L1399.01 1095.5L1405.29 1092.81L1411.56 1090.14L1417.84 1087.48L1424.12 1084.83L1430.39 1082.19L1436.67 1079.57L1442.95 1076.96L1449.22 1074.37L1455.5 1071.79" stroke="#ff00ff" stroke-width="6.9" stroke-dasharray="5.9 6.97"/>
<path clip-path="url(#clipb)" d="M281.75 1624.9L288.03 1624.08L294.3 1623.21L300.58 1622.28L306.86 1621.31L313.13 1620.29L319.41 1619.21L325.69 1618.05L331.96 1616.83L338.24 1615.57L344.52 1614.28L350.79 1612.99L357.07 1611.71L363.35 1610.46L369.62 1609.22L375.9 1607.97L382.18 1606.71L388.45 1605.42L394.73 1604.09L401.01 1602.71L407.28 1601.3L413.56 1599.87L419.84 1598.42L426.11 1596.95L432.39 1595.45L438.67 1593.94L444.95 1592.4L451.22 1590.85L457.5 1589.29L463.78 1587.7L470.05 1586.1L476.33 1584.49L482.61 1582.86L488.88 1581.22L495.16 1579.57L501.44 1577.91L507.71 1576.24L513.99 1574.56L520.27 1572.87L526.54 1571.15L532.82 1569.4L539.1 1567.64L545.37 1565.84L551.65 1564.03L557.93 1562.2L564.2 1560.36L570.48 1558.5L576.76 1556.63L583.03 1554.74L589.31 1552.85L595.59 1550.95L601.86 1549.05L608.14 1547.14L614.42 1545.23L620.69 1543.32L626.97 1541.42L633.25 1539.52L639.52 1537.62L645.8 1535.73L652.08 1533.86L658.35 1531.99L664.63 1530.14L670.91 1528.31L677.18 1526.49L683.46 1524.67L689.74 1522.86L696.01 1521.04L702.29 1519.23L708.57 1517.42L714.84 1515.61L721.12 1513.81L727.4 1512.01L733.68 1510.21L739.95 1508.41L746.23 1506.61L752.51 1504.82L758.78 1503.03L765.06 1501.25L771.34 1499.47L777.61 1497.69L783.89 1495.91L790.17 1494.14L796.44 1492.37L802.72 1490.61L809 1488.85L815.27 1487.1L821.55 1485.34L827.83 1483.6L834.1 1481.86L840.38 1480.12L846.66 1478.4L852.93 1476.68L859.21 1474.97L865.49 1473.27L871.76 1471.57L878.04 1469.87L884.32 1468.18L890.59 1466.49L896.87 1464.81L903.15 1463.12L909.42 1461.44L915.7 1459.76L921.98 1458.07L928.25 1456.39L934.53 1454.7L940.81 1453.01L947.08 1451.32L953.36 1449.62L959.64 1447.92L965.91 1446.22L972.19 1444.5L978.47 1442.78L984.74 1441.06L991.02 1439.32L997.3 1437.58L1003.57 1435.82L1009.85 1434.07L1016.13 1432.3L1022.41 1430.53L1028.68 1428.76L1034.96 1426.98L1041.24 1425.2L1047.51 1423.42L1053.79 1421.63L1060.07 1419.85L1066.34 1418.06L1072.62 1416.28L1078.9 1414.49L1085.17 1412.71L1091.45 1410.93L1097.73 1409.16L1104 1407.39L1110.28 1405.63L1116.56 1403.87L1122.83 1402.11L1129.11 1400.37L1135.39 1398.63L1141.66 1396.9L1147.94 1395.18L1154.22 1393.46L1160.49 1391.74L1166.77 1390.02L1173.05 1388.31L1179.32 1386.59L1185.6 1384.88L1191.88 1383.17L1198.15 1381.46L1204.43 1379.76L1210.71 1378.06L1216.98 1376.37L1223.26 1374.68L1229.54 1373L1235.81 1371.32L1242.09 1369.64L1248.37 1367.97L1254.64 1366.31L1260.92 1364.66L1267.2 1363.01L1273.47 1361.37L1279.75 1359.74L1286.03 1358.12L1292.3 1356.5L1298.58 1354.9L1304.86 1353.3L1311.14 1351.7L1317.41 1350.12L1323.69 1348.53L1329.97 1346.96L1336.24 1345.39L1342.52 1343.82L1348.8 1342.26L1355.07 1340.71L1361.35 1339.16L1367.63 1337.62L1373.9 1336.08L1380.18 1334.55L1386.46 1333.03L1392.73 1331.51L1399.01 1330L1405.29 1328.49L1411.56 1326.99L1417.84 1325.5L1424.12 1324.01L1430.39 1322.53L1436.67 1321.05L1442.95 1319.58L1449.22 1318.12L1455.5 1316.66" stroke="#ff00ff" stroke-width="6.9" stroke-dasharray="5.9 6.97"/>
</g>
<rect x="240" y="1016.9" width="415.9" height="363.9" fill="#ffffff" stroke="#262626" stroke-width="3.4"/>
<path d="M251 1046.75H358.2" stroke="#000000" stroke-width="14" fill="none"/>
<text x="366" y="1063.75" class="lg">w0s0c0t0 (/mu)</text>
<path d="M251 1097.42H358.2" stroke="#000000" stroke-width="6.9" stroke-dasharray="5.9 7.15" fill="none"/>
<text x="366" y="1114.42" class="lg">(90%-CI)</text>
<path d="M251 1148.09H358.2" stroke="#00cc00" stroke-width="11.2" fill="none"/>
<text x="366" y="1165.09" class="lg">w30s0c0</text>
<path d="M251 1198.76H358.2" stroke="#ff8000" stroke-width="11.2" fill="none"/>
<text x="366" y="1215.76" class="lg">w30s3c0</text>
<path d="M251 1249.43H358.2" stroke="#ff0000" stroke-width="11.2" fill="none"/>
<text x="366" y="1266.43" class="lg">w30s7c0</text>
<path d="M251 1300.1H358.2" stroke="#0000ff" stroke-width="11.2" fill="none"/>
<text x="366" y="1317.1" class="lg">w30s0c5</text>
<path d="M251 1350.77H358.2" stroke="#ff00ff" stroke-width="11.2" fill="none"/>
<text x="366" y="1367.77" class="lg">w30s3c5</text>
<text x="183.6" y="1644.8" text-anchor="end" class="t">0</text>
<text x="183.6" y="1537.4" text-anchor="end" class="t">20</text>
<text x="183.6" y="1430" text-anchor="end" class="t">40</text>
<text x="183.6" y="1322.6" text-anchor="end" class="t">60</text>
<text x="183.6" y="1215.2" text-anchor="end" class="t">80</text>
<text x="183.6" y="1107.8" text-anchor="end" class="t">100</text>
<text x="183.6" y="1000.4" text-anchor="end" class="t">120</text>
<text x="201.3" y="1697.7" text-anchor="middle" class="t">0</text>
<text x="357.8" y="1697.7" text-anchor="middle" class="t">0.5</text>
<text x="514.3" y="1697.7" text-anchor="middle" class="t">1</text>
<text x="670.8" y="1697.7" text-anchor="middle" class="t">1.5</text>
<text x="827.3" y="1697.7" text-anchor="middle" class="t">2</text>
<text x="983.8" y="1697.7" text-anchor="middle" class="t">2.5</text>
<text x="1140.3" y="1697.7" text-anchor="middle" class="t">3</text>
<text x="1296.8" y="1697.7" text-anchor="middle" class="t">3.5</text>
<text x="1453.3" y="1697.7" text-anchor="middle" class="t">4</text>
<text x="828.6" y="1772.1" text-anchor="middle" class="l" style="font-size:63.5px">CMOD (mm)</text>
<text transform="translate(74.6 1306.3) rotate(-90)" text-anchor="middle" class="l" style="font-size:62.5px">Work (kJ)</text>
<text x="828.5" y="957.8" text-anchor="middle" class="ti">b)</text>
</svg>
</body></html>
